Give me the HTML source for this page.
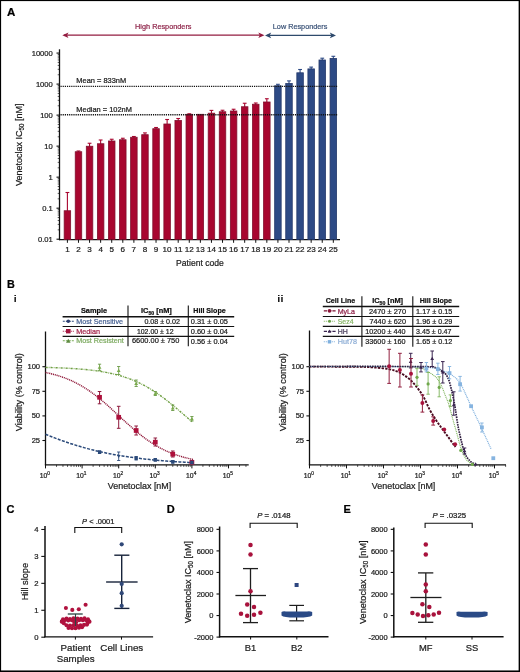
<!DOCTYPE html>
<html><head><meta charset="utf-8"><style>
html,body{margin:0;padding:0;background:#fff;}
body{width:520px;height:672px;overflow:hidden;}
svg text{stroke-width:0.22px;}
svg{display:block;will-change:transform;font-family:"Liberation Sans", sans-serif;}
</style></head><body>
<svg width="520" height="672" viewBox="0 0 520 672">
<rect x="0" y="0" width="520" height="672" fill="#fff"/>
<text stroke="#000" x="7" y="15.6" font-size="11.5" text-anchor="start" fill="#000" font-weight="bold">A</text>
<line x1="64" y1="35.2" x2="262" y2="35.2" stroke="#931c40" stroke-width="1.3"/>
<path d="M62.3,35.2 L68.5,32.4 L67,35.2 L68.5,38 Z" stroke="none" stroke-width="1" fill="#931c40"/>
<path d="M264.5,35.2 L258.3,32.4 L259.8,35.2 L258.3,38 Z" stroke="none" stroke-width="1" fill="#931c40"/>
<line x1="267" y1="35.4" x2="334" y2="35.4" stroke="#2e4a6c" stroke-width="1.3"/>
<path d="M265,35.4 L271.2,32.6 L269.7,35.4 L271.2,38.2 Z" stroke="none" stroke-width="1" fill="#2e4a6c"/>
<path d="M336,35.4 L329.8,32.6 L331.3,35.4 L329.8,38.2 Z" stroke="none" stroke-width="1" fill="#2e4a6c"/>
<text stroke="#8e2348" x="163.3" y="29.2" font-size="8" text-anchor="middle" fill="#8e2348" font-weight="normal" textLength="56.4" lengthAdjust="spacingAndGlyphs">High Responders</text>
<text stroke="#3a5277" x="300.1" y="29.2" font-size="8" text-anchor="middle" fill="#3a5277" font-weight="normal" textLength="54.6" lengthAdjust="spacingAndGlyphs">Low Responders</text>
<line x1="59.5" y1="49.3" x2="59.5" y2="240.2" stroke="#111" stroke-width="1.3"/>
<line x1="56.5" y1="239.2" x2="59.5" y2="239.2" stroke="#111" stroke-width="1.1"/>
<text stroke="#1c1c1c" x="52.8" y="241.89999999999998" font-size="7.6" text-anchor="end" fill="#1c1c1c" font-weight="normal">0.01</text>
<line x1="57.7" y1="229.86204953450329" x2="59.5" y2="229.86204953450329" stroke="#111" stroke-width="0.7"/>
<line x1="57.7" y1="224.39969867859605" x2="59.5" y2="224.39969867859605" stroke="#111" stroke-width="0.7"/>
<line x1="57.7" y1="220.52409906900658" x2="59.5" y2="220.52409906900658" stroke="#111" stroke-width="0.7"/>
<line x1="57.7" y1="217.51795046549668" x2="59.5" y2="217.51795046549668" stroke="#111" stroke-width="0.7"/>
<line x1="57.7" y1="215.06174821309935" x2="59.5" y2="215.06174821309935" stroke="#111" stroke-width="0.7"/>
<line x1="57.7" y1="212.98505879875773" x2="59.5" y2="212.98505879875773" stroke="#111" stroke-width="0.7"/>
<line x1="57.7" y1="211.1861486035099" x2="59.5" y2="211.1861486035099" stroke="#111" stroke-width="0.7"/>
<line x1="57.7" y1="209.59939735719212" x2="59.5" y2="209.59939735719212" stroke="#111" stroke-width="0.7"/>
<line x1="56.5" y1="208.17999999999998" x2="59.5" y2="208.17999999999998" stroke="#111" stroke-width="1.1"/>
<text stroke="#1c1c1c" x="52.8" y="210.87999999999997" font-size="7.6" text-anchor="end" fill="#1c1c1c" font-weight="normal">0.1</text>
<line x1="57.7" y1="198.84204953450327" x2="59.5" y2="198.84204953450327" stroke="#111" stroke-width="0.7"/>
<line x1="57.7" y1="193.37969867859604" x2="59.5" y2="193.37969867859604" stroke="#111" stroke-width="0.7"/>
<line x1="57.7" y1="189.5040990690066" x2="59.5" y2="189.5040990690066" stroke="#111" stroke-width="0.7"/>
<line x1="57.7" y1="186.49795046549667" x2="59.5" y2="186.49795046549667" stroke="#111" stroke-width="0.7"/>
<line x1="57.7" y1="184.04174821309937" x2="59.5" y2="184.04174821309937" stroke="#111" stroke-width="0.7"/>
<line x1="57.7" y1="181.96505879875772" x2="59.5" y2="181.96505879875772" stroke="#111" stroke-width="0.7"/>
<line x1="57.7" y1="180.1661486035099" x2="59.5" y2="180.1661486035099" stroke="#111" stroke-width="0.7"/>
<line x1="57.7" y1="178.57939735719214" x2="59.5" y2="178.57939735719214" stroke="#111" stroke-width="0.7"/>
<line x1="56.5" y1="177.16" x2="59.5" y2="177.16" stroke="#111" stroke-width="1.1"/>
<text stroke="#1c1c1c" x="52.8" y="179.85999999999999" font-size="7.6" text-anchor="end" fill="#1c1c1c" font-weight="normal">1</text>
<line x1="57.7" y1="167.8220495345033" x2="59.5" y2="167.8220495345033" stroke="#111" stroke-width="0.7"/>
<line x1="57.7" y1="162.35969867859606" x2="59.5" y2="162.35969867859606" stroke="#111" stroke-width="0.7"/>
<line x1="57.7" y1="158.48409906900662" x2="59.5" y2="158.48409906900662" stroke="#111" stroke-width="0.7"/>
<line x1="57.7" y1="155.4779504654967" x2="59.5" y2="155.4779504654967" stroke="#111" stroke-width="0.7"/>
<line x1="57.7" y1="153.0217482130994" x2="59.5" y2="153.0217482130994" stroke="#111" stroke-width="0.7"/>
<line x1="57.7" y1="150.94505879875774" x2="59.5" y2="150.94505879875774" stroke="#111" stroke-width="0.7"/>
<line x1="57.7" y1="149.1461486035099" x2="59.5" y2="149.1461486035099" stroke="#111" stroke-width="0.7"/>
<line x1="57.7" y1="147.55939735719215" x2="59.5" y2="147.55939735719215" stroke="#111" stroke-width="0.7"/>
<line x1="56.5" y1="146.14" x2="59.5" y2="146.14" stroke="#111" stroke-width="1.1"/>
<text stroke="#1c1c1c" x="52.8" y="148.83999999999997" font-size="7.6" text-anchor="end" fill="#1c1c1c" font-weight="normal">10</text>
<line x1="57.7" y1="136.80204953450328" x2="59.5" y2="136.80204953450328" stroke="#111" stroke-width="0.7"/>
<line x1="57.7" y1="131.33969867859605" x2="59.5" y2="131.33969867859605" stroke="#111" stroke-width="0.7"/>
<line x1="57.7" y1="127.4640990690066" x2="59.5" y2="127.4640990690066" stroke="#111" stroke-width="0.7"/>
<line x1="57.7" y1="124.45795046549668" x2="59.5" y2="124.45795046549668" stroke="#111" stroke-width="0.7"/>
<line x1="57.7" y1="122.00174821309936" x2="59.5" y2="122.00174821309936" stroke="#111" stroke-width="0.7"/>
<line x1="57.7" y1="119.92505879875773" x2="59.5" y2="119.92505879875773" stroke="#111" stroke-width="0.7"/>
<line x1="57.7" y1="118.1261486035099" x2="59.5" y2="118.1261486035099" stroke="#111" stroke-width="0.7"/>
<line x1="57.7" y1="116.53939735719213" x2="59.5" y2="116.53939735719213" stroke="#111" stroke-width="0.7"/>
<line x1="56.5" y1="115.11999999999999" x2="59.5" y2="115.11999999999999" stroke="#111" stroke-width="1.1"/>
<text stroke="#1c1c1c" x="52.8" y="117.82" font-size="7.6" text-anchor="end" fill="#1c1c1c" font-weight="normal">100</text>
<line x1="57.7" y1="105.7820495345033" x2="59.5" y2="105.7820495345033" stroke="#111" stroke-width="0.7"/>
<line x1="57.7" y1="100.31969867859607" x2="59.5" y2="100.31969867859607" stroke="#111" stroke-width="0.7"/>
<line x1="57.7" y1="96.4440990690066" x2="59.5" y2="96.4440990690066" stroke="#111" stroke-width="0.7"/>
<line x1="57.7" y1="93.43795046549668" x2="59.5" y2="93.43795046549668" stroke="#111" stroke-width="0.7"/>
<line x1="57.7" y1="90.98174821309937" x2="59.5" y2="90.98174821309937" stroke="#111" stroke-width="0.7"/>
<line x1="57.7" y1="88.90505879875775" x2="59.5" y2="88.90505879875775" stroke="#111" stroke-width="0.7"/>
<line x1="57.7" y1="87.1061486035099" x2="59.5" y2="87.1061486035099" stroke="#111" stroke-width="0.7"/>
<line x1="57.7" y1="85.51939735719213" x2="59.5" y2="85.51939735719213" stroke="#111" stroke-width="0.7"/>
<line x1="56.5" y1="84.1" x2="59.5" y2="84.1" stroke="#111" stroke-width="1.1"/>
<text stroke="#1c1c1c" x="52.8" y="86.8" font-size="7.6" text-anchor="end" fill="#1c1c1c" font-weight="normal">1000</text>
<line x1="57.7" y1="74.76204953450329" x2="59.5" y2="74.76204953450329" stroke="#111" stroke-width="0.7"/>
<line x1="57.7" y1="69.29969867859606" x2="59.5" y2="69.29969867859606" stroke="#111" stroke-width="0.7"/>
<line x1="57.7" y1="65.4240990690066" x2="59.5" y2="65.4240990690066" stroke="#111" stroke-width="0.7"/>
<line x1="57.7" y1="62.41795046549669" x2="59.5" y2="62.41795046549669" stroke="#111" stroke-width="0.7"/>
<line x1="57.7" y1="59.96174821309937" x2="59.5" y2="59.96174821309937" stroke="#111" stroke-width="0.7"/>
<line x1="57.7" y1="57.88505879875775" x2="59.5" y2="57.88505879875775" stroke="#111" stroke-width="0.7"/>
<line x1="57.7" y1="56.086148603509905" x2="59.5" y2="56.086148603509905" stroke="#111" stroke-width="0.7"/>
<line x1="57.7" y1="54.49939735719214" x2="59.5" y2="54.49939735719214" stroke="#111" stroke-width="0.7"/>
<line x1="56.5" y1="53.079999999999984" x2="59.5" y2="53.079999999999984" stroke="#111" stroke-width="1.1"/>
<text stroke="#1c1c1c" x="52.8" y="55.77999999999999" font-size="7.6" text-anchor="end" fill="#1c1c1c" font-weight="normal">10000</text>
<line x1="58.9" y1="239.6" x2="340" y2="239.6" stroke="#111" stroke-width="1.3"/>
<line x1="67.4" y1="192.5" x2="67.4" y2="211.75" stroke="#a8062f" stroke-width="1.1"/>
<line x1="65.5" y1="192.5" x2="69.30000000000001" y2="192.5" stroke="#a8062f" stroke-width="1.1"/>
<rect x="64.15" y="210.75" width="6.5" height="28.849999999999994" fill="#a8062f" stroke="#80112e" stroke-width="0.8"/>
<line x1="67.4" y1="239.6" x2="67.4" y2="242.8" stroke="#111" stroke-width="1"/>
<text stroke="#1c1c1c" x="67.4" y="252.3" font-size="8.1" text-anchor="middle" fill="#1c1c1c" font-weight="normal">1</text>
<line x1="78.48" y1="151" x2="78.48" y2="152.75" stroke="#a8062f" stroke-width="1.1"/>
<line x1="76.58" y1="151" x2="80.38000000000001" y2="151" stroke="#a8062f" stroke-width="1.1"/>
<rect x="75.23" y="151.75" width="6.5" height="87.85" fill="#a8062f" stroke="#80112e" stroke-width="0.8"/>
<line x1="78.48" y1="239.6" x2="78.48" y2="242.8" stroke="#111" stroke-width="1"/>
<text stroke="#1c1c1c" x="78.48" y="252.3" font-size="8.1" text-anchor="middle" fill="#1c1c1c" font-weight="normal">2</text>
<line x1="89.56" y1="143.25" x2="89.56" y2="147.25" stroke="#a8062f" stroke-width="1.1"/>
<line x1="87.66" y1="143.25" x2="91.46000000000001" y2="143.25" stroke="#a8062f" stroke-width="1.1"/>
<rect x="86.31" y="146.25" width="6.5" height="93.35" fill="#a8062f" stroke="#80112e" stroke-width="0.8"/>
<line x1="89.56" y1="239.6" x2="89.56" y2="242.8" stroke="#111" stroke-width="1"/>
<text stroke="#1c1c1c" x="89.56" y="252.3" font-size="8.1" text-anchor="middle" fill="#1c1c1c" font-weight="normal">3</text>
<line x1="100.64000000000001" y1="140" x2="100.64000000000001" y2="144.75" stroke="#a8062f" stroke-width="1.1"/>
<line x1="98.74000000000001" y1="140" x2="102.54000000000002" y2="140" stroke="#a8062f" stroke-width="1.1"/>
<rect x="97.39000000000001" y="143.75" width="6.5" height="95.85" fill="#a8062f" stroke="#80112e" stroke-width="0.8"/>
<line x1="100.64000000000001" y1="239.6" x2="100.64000000000001" y2="242.8" stroke="#111" stroke-width="1"/>
<text stroke="#1c1c1c" x="100.64000000000001" y="252.3" font-size="8.1" text-anchor="middle" fill="#1c1c1c" font-weight="normal">4</text>
<line x1="111.72" y1="139.25" x2="111.72" y2="142" stroke="#a8062f" stroke-width="1.1"/>
<line x1="109.82" y1="139.25" x2="113.62" y2="139.25" stroke="#a8062f" stroke-width="1.1"/>
<rect x="108.47" y="141" width="6.5" height="98.6" fill="#a8062f" stroke="#80112e" stroke-width="0.8"/>
<line x1="111.72" y1="239.6" x2="111.72" y2="242.8" stroke="#111" stroke-width="1"/>
<text stroke="#1c1c1c" x="111.72" y="252.3" font-size="8.1" text-anchor="middle" fill="#1c1c1c" font-weight="normal">5</text>
<line x1="122.80000000000001" y1="138.25" x2="122.80000000000001" y2="140.75" stroke="#a8062f" stroke-width="1.1"/>
<line x1="120.9" y1="138.25" x2="124.70000000000002" y2="138.25" stroke="#a8062f" stroke-width="1.1"/>
<rect x="119.55000000000001" y="139.75" width="6.5" height="99.85" fill="#a8062f" stroke="#80112e" stroke-width="0.8"/>
<line x1="122.80000000000001" y1="239.6" x2="122.80000000000001" y2="242.8" stroke="#111" stroke-width="1"/>
<text stroke="#1c1c1c" x="122.80000000000001" y="252.3" font-size="8.1" text-anchor="middle" fill="#1c1c1c" font-weight="normal">6</text>
<line x1="133.88000000000002" y1="136.5" x2="133.88000000000002" y2="138.25" stroke="#a8062f" stroke-width="1.1"/>
<line x1="131.98000000000002" y1="136.5" x2="135.78000000000003" y2="136.5" stroke="#a8062f" stroke-width="1.1"/>
<rect x="130.63000000000002" y="137.25" width="6.5" height="102.35" fill="#a8062f" stroke="#80112e" stroke-width="0.8"/>
<line x1="133.88000000000002" y1="239.6" x2="133.88000000000002" y2="242.8" stroke="#111" stroke-width="1"/>
<text stroke="#1c1c1c" x="133.88000000000002" y="252.3" font-size="8.1" text-anchor="middle" fill="#1c1c1c" font-weight="normal">7</text>
<line x1="144.96" y1="132.9" x2="144.96" y2="135.7" stroke="#a8062f" stroke-width="1.1"/>
<line x1="143.06" y1="132.9" x2="146.86" y2="132.9" stroke="#a8062f" stroke-width="1.1"/>
<rect x="141.71" y="134.7" width="6.5" height="104.9" fill="#a8062f" stroke="#80112e" stroke-width="0.8"/>
<line x1="144.96" y1="239.6" x2="144.96" y2="242.8" stroke="#111" stroke-width="1"/>
<text stroke="#1c1c1c" x="144.96" y="252.3" font-size="8.1" text-anchor="middle" fill="#1c1c1c" font-weight="normal">8</text>
<line x1="156.04" y1="127.5" x2="156.04" y2="129.7" stroke="#a8062f" stroke-width="1.1"/>
<line x1="154.14" y1="127.5" x2="157.94" y2="127.5" stroke="#a8062f" stroke-width="1.1"/>
<rect x="152.79" y="128.7" width="6.5" height="110.9" fill="#a8062f" stroke="#80112e" stroke-width="0.8"/>
<line x1="156.04" y1="239.6" x2="156.04" y2="242.8" stroke="#111" stroke-width="1"/>
<text stroke="#1c1c1c" x="156.04" y="252.3" font-size="8.1" text-anchor="middle" fill="#1c1c1c" font-weight="normal">9</text>
<line x1="167.12" y1="119.5" x2="167.12" y2="125" stroke="#a8062f" stroke-width="1.1"/>
<line x1="165.22" y1="119.5" x2="169.02" y2="119.5" stroke="#a8062f" stroke-width="1.1"/>
<rect x="163.87" y="124" width="6.5" height="115.6" fill="#a8062f" stroke="#80112e" stroke-width="0.8"/>
<line x1="167.12" y1="239.6" x2="167.12" y2="242.8" stroke="#111" stroke-width="1"/>
<text stroke="#1c1c1c" x="167.12" y="252.3" font-size="8.1" text-anchor="middle" fill="#1c1c1c" font-weight="normal">10</text>
<line x1="178.20000000000002" y1="118.5" x2="178.20000000000002" y2="121.5" stroke="#a8062f" stroke-width="1.1"/>
<line x1="176.3" y1="118.5" x2="180.10000000000002" y2="118.5" stroke="#a8062f" stroke-width="1.1"/>
<rect x="174.95000000000002" y="120.5" width="6.5" height="119.1" fill="#a8062f" stroke="#80112e" stroke-width="0.8"/>
<line x1="178.20000000000002" y1="239.6" x2="178.20000000000002" y2="242.8" stroke="#111" stroke-width="1"/>
<text stroke="#1c1c1c" x="178.20000000000002" y="252.3" font-size="8.1" text-anchor="middle" fill="#1c1c1c" font-weight="normal">11</text>
<line x1="189.28" y1="113.8" x2="189.28" y2="115.3" stroke="#a8062f" stroke-width="1.1"/>
<line x1="187.38" y1="113.8" x2="191.18" y2="113.8" stroke="#a8062f" stroke-width="1.1"/>
<rect x="186.03" y="114.3" width="6.5" height="125.3" fill="#a8062f" stroke="#80112e" stroke-width="0.8"/>
<line x1="189.28" y1="239.6" x2="189.28" y2="242.8" stroke="#111" stroke-width="1"/>
<text stroke="#1c1c1c" x="189.28" y="252.3" font-size="8.1" text-anchor="middle" fill="#1c1c1c" font-weight="normal">12</text>
<rect x="197.11" y="114.3" width="6.5" height="125.3" fill="#a8062f" stroke="#80112e" stroke-width="0.8"/>
<line x1="200.36" y1="239.6" x2="200.36" y2="242.8" stroke="#111" stroke-width="1"/>
<text stroke="#1c1c1c" x="200.36" y="252.3" font-size="8.1" text-anchor="middle" fill="#1c1c1c" font-weight="normal">13</text>
<line x1="211.44" y1="110.4" x2="211.44" y2="114.2" stroke="#a8062f" stroke-width="1.1"/>
<line x1="209.54" y1="110.4" x2="213.34" y2="110.4" stroke="#a8062f" stroke-width="1.1"/>
<rect x="208.19" y="113.2" width="6.5" height="126.39999999999999" fill="#a8062f" stroke="#80112e" stroke-width="0.8"/>
<line x1="211.44" y1="239.6" x2="211.44" y2="242.8" stroke="#111" stroke-width="1"/>
<text stroke="#1c1c1c" x="211.44" y="252.3" font-size="8.1" text-anchor="middle" fill="#1c1c1c" font-weight="normal">14</text>
<line x1="222.52" y1="110.25" x2="222.52" y2="112.75" stroke="#a8062f" stroke-width="1.1"/>
<line x1="220.62" y1="110.25" x2="224.42000000000002" y2="110.25" stroke="#a8062f" stroke-width="1.1"/>
<rect x="219.27" y="111.75" width="6.5" height="127.85" fill="#a8062f" stroke="#80112e" stroke-width="0.8"/>
<line x1="222.52" y1="239.6" x2="222.52" y2="242.8" stroke="#111" stroke-width="1"/>
<text stroke="#1c1c1c" x="222.52" y="252.3" font-size="8.1" text-anchor="middle" fill="#1c1c1c" font-weight="normal">15</text>
<line x1="233.6" y1="109.25" x2="233.6" y2="112" stroke="#a8062f" stroke-width="1.1"/>
<line x1="231.7" y1="109.25" x2="235.5" y2="109.25" stroke="#a8062f" stroke-width="1.1"/>
<rect x="230.35" y="111" width="6.5" height="128.6" fill="#a8062f" stroke="#80112e" stroke-width="0.8"/>
<line x1="233.6" y1="239.6" x2="233.6" y2="242.8" stroke="#111" stroke-width="1"/>
<text stroke="#1c1c1c" x="233.6" y="252.3" font-size="8.1" text-anchor="middle" fill="#1c1c1c" font-weight="normal">16</text>
<line x1="244.68" y1="103.25" x2="244.68" y2="107.75" stroke="#a8062f" stroke-width="1.1"/>
<line x1="242.78" y1="103.25" x2="246.58" y2="103.25" stroke="#a8062f" stroke-width="1.1"/>
<rect x="241.43" y="106.75" width="6.5" height="132.85" fill="#a8062f" stroke="#80112e" stroke-width="0.8"/>
<line x1="244.68" y1="239.6" x2="244.68" y2="242.8" stroke="#111" stroke-width="1"/>
<text stroke="#1c1c1c" x="244.68" y="252.3" font-size="8.1" text-anchor="middle" fill="#1c1c1c" font-weight="normal">17</text>
<line x1="255.76000000000002" y1="103" x2="255.76000000000002" y2="105.25" stroke="#a8062f" stroke-width="1.1"/>
<line x1="253.86" y1="103" x2="257.66" y2="103" stroke="#a8062f" stroke-width="1.1"/>
<rect x="252.51000000000002" y="104.25" width="6.5" height="135.35" fill="#a8062f" stroke="#80112e" stroke-width="0.8"/>
<line x1="255.76000000000002" y1="239.6" x2="255.76000000000002" y2="242.8" stroke="#111" stroke-width="1"/>
<text stroke="#1c1c1c" x="255.76000000000002" y="252.3" font-size="8.1" text-anchor="middle" fill="#1c1c1c" font-weight="normal">18</text>
<line x1="266.84" y1="98.75" x2="266.84" y2="103" stroke="#a8062f" stroke-width="1.1"/>
<line x1="264.94" y1="98.75" x2="268.73999999999995" y2="98.75" stroke="#a8062f" stroke-width="1.1"/>
<rect x="263.59" y="102" width="6.5" height="137.6" fill="#a8062f" stroke="#80112e" stroke-width="0.8"/>
<line x1="266.84" y1="239.6" x2="266.84" y2="242.8" stroke="#111" stroke-width="1"/>
<text stroke="#1c1c1c" x="266.84" y="252.3" font-size="8.1" text-anchor="middle" fill="#1c1c1c" font-weight="normal">19</text>
<line x1="277.91999999999996" y1="84.3" x2="277.91999999999996" y2="86.8" stroke="#2d4a85" stroke-width="1.1"/>
<line x1="276.02" y1="84.3" x2="279.81999999999994" y2="84.3" stroke="#2d4a85" stroke-width="1.1"/>
<rect x="274.66999999999996" y="85.8" width="6.5" height="153.8" fill="#2d4a85" stroke="#24386a" stroke-width="0.8"/>
<line x1="277.91999999999996" y1="239.6" x2="277.91999999999996" y2="242.8" stroke="#111" stroke-width="1"/>
<text stroke="#1c1c1c" x="277.91999999999996" y="252.3" font-size="8.1" text-anchor="middle" fill="#1c1c1c" font-weight="normal">20</text>
<line x1="289.0" y1="80.9" x2="289.0" y2="84.5" stroke="#2d4a85" stroke-width="1.1"/>
<line x1="287.1" y1="80.9" x2="290.9" y2="80.9" stroke="#2d4a85" stroke-width="1.1"/>
<rect x="285.75" y="83.5" width="6.5" height="156.1" fill="#2d4a85" stroke="#24386a" stroke-width="0.8"/>
<line x1="289.0" y1="239.6" x2="289.0" y2="242.8" stroke="#111" stroke-width="1"/>
<text stroke="#1c1c1c" x="289.0" y="252.3" font-size="8.1" text-anchor="middle" fill="#1c1c1c" font-weight="normal">21</text>
<line x1="300.08" y1="69.5" x2="300.08" y2="73.8" stroke="#2d4a85" stroke-width="1.1"/>
<line x1="298.18" y1="69.5" x2="301.97999999999996" y2="69.5" stroke="#2d4a85" stroke-width="1.1"/>
<rect x="296.83" y="72.8" width="6.5" height="166.8" fill="#2d4a85" stroke="#24386a" stroke-width="0.8"/>
<line x1="300.08" y1="239.6" x2="300.08" y2="242.8" stroke="#111" stroke-width="1"/>
<text stroke="#1c1c1c" x="300.08" y="252.3" font-size="8.1" text-anchor="middle" fill="#1c1c1c" font-weight="normal">22</text>
<line x1="311.15999999999997" y1="67.1" x2="311.15999999999997" y2="69.9" stroke="#2d4a85" stroke-width="1.1"/>
<line x1="309.26" y1="67.1" x2="313.05999999999995" y2="67.1" stroke="#2d4a85" stroke-width="1.1"/>
<rect x="307.90999999999997" y="68.9" width="6.5" height="170.7" fill="#2d4a85" stroke="#24386a" stroke-width="0.8"/>
<line x1="311.15999999999997" y1="239.6" x2="311.15999999999997" y2="242.8" stroke="#111" stroke-width="1"/>
<text stroke="#1c1c1c" x="311.15999999999997" y="252.3" font-size="8.1" text-anchor="middle" fill="#1c1c1c" font-weight="normal">23</text>
<line x1="322.24" y1="58.2" x2="322.24" y2="61" stroke="#2d4a85" stroke-width="1.1"/>
<line x1="320.34000000000003" y1="58.2" x2="324.14" y2="58.2" stroke="#2d4a85" stroke-width="1.1"/>
<rect x="318.99" y="60" width="6.5" height="179.6" fill="#2d4a85" stroke="#24386a" stroke-width="0.8"/>
<line x1="322.24" y1="239.6" x2="322.24" y2="242.8" stroke="#111" stroke-width="1"/>
<text stroke="#1c1c1c" x="322.24" y="252.3" font-size="8.1" text-anchor="middle" fill="#1c1c1c" font-weight="normal">24</text>
<line x1="333.32" y1="56.3" x2="333.32" y2="59.5" stroke="#2d4a85" stroke-width="1.1"/>
<line x1="331.42" y1="56.3" x2="335.21999999999997" y2="56.3" stroke="#2d4a85" stroke-width="1.1"/>
<rect x="330.07" y="58.5" width="6.5" height="181.1" fill="#2d4a85" stroke="#24386a" stroke-width="0.8"/>
<line x1="333.32" y1="239.6" x2="333.32" y2="242.8" stroke="#111" stroke-width="1"/>
<text stroke="#1c1c1c" x="333.32" y="252.3" font-size="8.1" text-anchor="middle" fill="#1c1c1c" font-weight="normal">25</text>
<line x1="60.5" y1="86.4" x2="338" y2="86.4" stroke="#111" stroke-width="1.35" stroke-dasharray="1.2 0.95"/>
<line x1="60.5" y1="114.7" x2="338" y2="114.7" stroke="#111" stroke-width="1.35" stroke-dasharray="1.2 0.95"/>
<text stroke="#1c1c1c" x="76.3" y="83.2" font-size="7.45" text-anchor="start" fill="#1c1c1c" font-weight="normal">Mean = 833nM</text>
<text stroke="#1c1c1c" x="76.3" y="111.8" font-size="7.45" text-anchor="start" fill="#1c1c1c" font-weight="normal">Median = 102nM</text>
<text stroke="#1c1c1c" transform="translate(22.0,144.8) rotate(-90)" font-size="9.25" text-anchor="middle" fill="#1c1c1c" textLength="82.5" lengthAdjust="spacingAndGlyphs">Venetoclax IC<tspan font-size="6.3" dy="2">50</tspan><tspan dy="-2"> [nM]</tspan></text>
<text stroke="#1c1c1c" x="200" y="265.9" font-size="9.4" text-anchor="middle" fill="#1c1c1c" font-weight="normal" textLength="47.8" lengthAdjust="spacingAndGlyphs">Patient code</text>
<text stroke="#000" x="6.9" y="287.8" font-size="10.8" text-anchor="start" fill="#000" font-weight="bold">B</text>
<text stroke="#000" x="13.9" y="302.3" font-size="8.8" text-anchor="start" fill="#000" font-weight="bold">i</text>
<text stroke="#000" x="277.5" y="302.3" font-size="8.8" text-anchor="start" fill="#000" font-weight="bold">i</text>
<text stroke="#000" x="280.7" y="302.3" font-size="8.8" text-anchor="start" fill="#000" font-weight="bold">i</text>
<line x1="62.6" y1="316.7" x2="234.2" y2="316.7" stroke="#111" stroke-width="1.5"/>
<line x1="62.6" y1="326.5" x2="234.2" y2="326.5" stroke="#111" stroke-width="1.1"/>
<line x1="62.6" y1="336.4" x2="234.2" y2="336.4" stroke="#111" stroke-width="1.1"/>
<line x1="128.0" y1="305.5" x2="128.0" y2="346.3" stroke="#111" stroke-width="1.1"/>
<line x1="188.3" y1="305.5" x2="188.3" y2="346.3" stroke="#111" stroke-width="1.1"/>
<text stroke="#111" x="94.0" y="312.8" font-size="7.4" text-anchor="middle" fill="#111" font-weight="bold" textLength="26.2" lengthAdjust="spacingAndGlyphs">Sample</text>
<text stroke="#111" x="141" y="313.1" font-size="7.4" font-weight="bold" fill="#111">IC<tspan font-size="5.2" dy="1.8">50</tspan><tspan dy="-1.8"> [nM]</tspan></text>
<text stroke="#111" x="193.3" y="312.7" font-size="7.4" text-anchor="start" fill="#111" font-weight="bold" textLength="32.4" lengthAdjust="spacingAndGlyphs">Hill Slope</text>
<text stroke="#4a6494" x="76.2" y="324.0" font-size="7.3" text-anchor="start" fill="#4a6494" font-weight="normal" textLength="46.8" lengthAdjust="spacingAndGlyphs">Most Sensitive</text>
<text stroke="#a4284c" x="76.2" y="333.5" font-size="7.3" text-anchor="start" fill="#a4284c" font-weight="normal" textLength="23.9" lengthAdjust="spacingAndGlyphs">Median</text>
<text stroke="#7eab62" x="76.2" y="343.3" font-size="7.3" text-anchor="start" fill="#7eab62" font-weight="normal" textLength="47.7" lengthAdjust="spacingAndGlyphs">Most Resistent</text>
<line x1="62.8" y1="321.2" x2="73.8" y2="321.2" stroke="#2d4a7a" stroke-width="1.1" stroke-dasharray="2 1"/>
<circle cx="68.3" cy="321.2" r="1.8" fill="#2d3f70"/>
<line x1="62.8" y1="331.2" x2="73.8" y2="331.2" stroke="#a3163f" stroke-width="1.1" stroke-dasharray="1 1"/>
<rect x="66.0" y="329.0" width="4.6" height="4.4" fill="#a3163f" stroke="none" stroke-width="0"/>
<line x1="62.8" y1="340.8" x2="73.8" y2="340.8" stroke="#78aa55" stroke-width="1.1" stroke-dasharray="2 1"/>
<path d="M66.0,342.64 L70.6,342.64 L68.3,338.73 Z" stroke="none" stroke-width="1" fill="#5e8a40"/>
<text stroke="#1c1c1c" x="180.0" y="324.0" font-size="7.6" text-anchor="end" fill="#1c1c1c" font-weight="normal" textLength="35.6" lengthAdjust="spacingAndGlyphs">0.08 ± 0.02</text>
<text stroke="#1c1c1c" x="136.9" y="334.0" font-size="7.6" text-anchor="start" fill="#1c1c1c" font-weight="normal" textLength="36.6" lengthAdjust="spacingAndGlyphs">102.00 ± 12</text>
<text stroke="#1c1c1c" x="131.9" y="343.1" font-size="7.6" text-anchor="start" fill="#1c1c1c" font-weight="normal" textLength="47.5" lengthAdjust="spacingAndGlyphs">6600.00 ± 750</text>
<text stroke="#1c1c1c" x="190.8" y="323.8" font-size="7.6" text-anchor="start" fill="#1c1c1c" font-weight="normal" textLength="37.1" lengthAdjust="spacingAndGlyphs">0.31 ± 0.05</text>
<text stroke="#1c1c1c" x="190.8" y="333.7" font-size="7.6" text-anchor="start" fill="#1c1c1c" font-weight="normal" textLength="37.1" lengthAdjust="spacingAndGlyphs">0.60 ± 0.04</text>
<text stroke="#1c1c1c" x="190.8" y="343.6" font-size="7.6" text-anchor="start" fill="#1c1c1c" font-weight="normal" textLength="37.1" lengthAdjust="spacingAndGlyphs">0.56 ± 0.04</text>
<line x1="45.5" y1="331.5" x2="45.5" y2="465.3" stroke="#111" stroke-width="1.3"/>
<line x1="42.4" y1="366.70000000000005" x2="45.5" y2="366.70000000000005" stroke="#111" stroke-width="1.1"/>
<text stroke="#1c1c1c" x="40.1" y="369.20000000000005" font-size="7.6" text-anchor="end" fill="#1c1c1c" font-weight="normal">100</text>
<line x1="42.4" y1="391.3" x2="45.5" y2="391.3" stroke="#111" stroke-width="1.1"/>
<text stroke="#1c1c1c" x="40.1" y="393.8" font-size="7.6" text-anchor="end" fill="#1c1c1c" font-weight="normal">75</text>
<line x1="42.4" y1="415.90000000000003" x2="45.5" y2="415.90000000000003" stroke="#111" stroke-width="1.1"/>
<text stroke="#1c1c1c" x="40.1" y="418.40000000000003" font-size="7.6" text-anchor="end" fill="#1c1c1c" font-weight="normal">50</text>
<line x1="42.4" y1="440.5" x2="45.5" y2="440.5" stroke="#111" stroke-width="1.1"/>
<text stroke="#1c1c1c" x="40.1" y="443.0" font-size="7.6" text-anchor="end" fill="#1c1c1c" font-weight="normal">25</text>
<line x1="44.9" y1="464.9" x2="248.7" y2="464.9" stroke="#111" stroke-width="1.3"/>
<line x1="45.5" y1="464.9" x2="45.5" y2="468.4" stroke="#111" stroke-width="1"/>
<text stroke="#1c1c1c" x="44.8" y="477.7" font-size="6.8" text-anchor="middle" fill="#1c1c1c">10<tspan font-size="4.8" dy="-2.6">0</tspan></text>
<line x1="56.51769784130171" y1="464.9" x2="56.51769784130171" y2="466.9" stroke="#111" stroke-width="0.7"/>
<line x1="62.962637922739646" y1="464.9" x2="62.962637922739646" y2="466.9" stroke="#111" stroke-width="0.7"/>
<line x1="67.53539568260342" y1="464.9" x2="67.53539568260342" y2="466.9" stroke="#111" stroke-width="0.7"/>
<line x1="71.0823021586983" y1="464.9" x2="71.0823021586983" y2="466.9" stroke="#111" stroke-width="0.7"/>
<line x1="73.98033576404136" y1="464.9" x2="73.98033576404136" y2="466.9" stroke="#111" stroke-width="0.7"/>
<line x1="76.4305882645218" y1="464.9" x2="76.4305882645218" y2="466.9" stroke="#111" stroke-width="0.7"/>
<line x1="78.55309352390513" y1="464.9" x2="78.55309352390513" y2="466.9" stroke="#111" stroke-width="0.7"/>
<line x1="80.42527584547929" y1="464.9" x2="80.42527584547929" y2="466.9" stroke="#111" stroke-width="0.7"/>
<line x1="82.1" y1="464.9" x2="82.1" y2="468.4" stroke="#111" stroke-width="1"/>
<text stroke="#1c1c1c" x="81.39999999999999" y="477.7" font-size="6.8" text-anchor="middle" fill="#1c1c1c">10<tspan font-size="4.8" dy="-2.6">1</tspan></text>
<line x1="93.1176978413017" y1="464.9" x2="93.1176978413017" y2="466.9" stroke="#111" stroke-width="0.7"/>
<line x1="99.56263792273964" y1="464.9" x2="99.56263792273964" y2="466.9" stroke="#111" stroke-width="0.7"/>
<line x1="104.13539568260342" y1="464.9" x2="104.13539568260342" y2="466.9" stroke="#111" stroke-width="0.7"/>
<line x1="107.68230215869829" y1="464.9" x2="107.68230215869829" y2="466.9" stroke="#111" stroke-width="0.7"/>
<line x1="110.58033576404135" y1="464.9" x2="110.58033576404135" y2="466.9" stroke="#111" stroke-width="0.7"/>
<line x1="113.0305882645218" y1="464.9" x2="113.0305882645218" y2="466.9" stroke="#111" stroke-width="0.7"/>
<line x1="115.15309352390513" y1="464.9" x2="115.15309352390513" y2="466.9" stroke="#111" stroke-width="0.7"/>
<line x1="117.02527584547929" y1="464.9" x2="117.02527584547929" y2="466.9" stroke="#111" stroke-width="0.7"/>
<line x1="118.7" y1="464.9" x2="118.7" y2="468.4" stroke="#111" stroke-width="1"/>
<text stroke="#1c1c1c" x="118.0" y="477.7" font-size="6.8" text-anchor="middle" fill="#1c1c1c">10<tspan font-size="4.8" dy="-2.6">2</tspan></text>
<line x1="129.7176978413017" y1="464.9" x2="129.7176978413017" y2="466.9" stroke="#111" stroke-width="0.7"/>
<line x1="136.16263792273963" y1="464.9" x2="136.16263792273963" y2="466.9" stroke="#111" stroke-width="0.7"/>
<line x1="140.73539568260344" y1="464.9" x2="140.73539568260344" y2="466.9" stroke="#111" stroke-width="0.7"/>
<line x1="144.2823021586983" y1="464.9" x2="144.2823021586983" y2="466.9" stroke="#111" stroke-width="0.7"/>
<line x1="147.18033576404136" y1="464.9" x2="147.18033576404136" y2="466.9" stroke="#111" stroke-width="0.7"/>
<line x1="149.6305882645218" y1="464.9" x2="149.6305882645218" y2="466.9" stroke="#111" stroke-width="0.7"/>
<line x1="151.75309352390514" y1="464.9" x2="151.75309352390514" y2="466.9" stroke="#111" stroke-width="0.7"/>
<line x1="153.62527584547928" y1="464.9" x2="153.62527584547928" y2="466.9" stroke="#111" stroke-width="0.7"/>
<line x1="155.3" y1="464.9" x2="155.3" y2="468.4" stroke="#111" stroke-width="1"/>
<text stroke="#1c1c1c" x="154.60000000000002" y="477.7" font-size="6.8" text-anchor="middle" fill="#1c1c1c">10<tspan font-size="4.8" dy="-2.6">3</tspan></text>
<line x1="166.31769784130174" y1="464.9" x2="166.31769784130174" y2="466.9" stroke="#111" stroke-width="0.7"/>
<line x1="172.76263792273966" y1="464.9" x2="172.76263792273966" y2="466.9" stroke="#111" stroke-width="0.7"/>
<line x1="177.33539568260343" y1="464.9" x2="177.33539568260343" y2="466.9" stroke="#111" stroke-width="0.7"/>
<line x1="180.8823021586983" y1="464.9" x2="180.8823021586983" y2="466.9" stroke="#111" stroke-width="0.7"/>
<line x1="183.78033576404135" y1="464.9" x2="183.78033576404135" y2="466.9" stroke="#111" stroke-width="0.7"/>
<line x1="186.23058826452183" y1="464.9" x2="186.23058826452183" y2="466.9" stroke="#111" stroke-width="0.7"/>
<line x1="188.35309352390516" y1="464.9" x2="188.35309352390516" y2="466.9" stroke="#111" stroke-width="0.7"/>
<line x1="190.2252758454793" y1="464.9" x2="190.2252758454793" y2="466.9" stroke="#111" stroke-width="0.7"/>
<line x1="191.9" y1="464.9" x2="191.9" y2="468.4" stroke="#111" stroke-width="1"/>
<text stroke="#1c1c1c" x="191.20000000000002" y="477.7" font-size="6.8" text-anchor="middle" fill="#1c1c1c">10<tspan font-size="4.8" dy="-2.6">4</tspan></text>
<line x1="202.91769784130173" y1="464.9" x2="202.91769784130173" y2="466.9" stroke="#111" stroke-width="0.7"/>
<line x1="209.36263792273965" y1="464.9" x2="209.36263792273965" y2="466.9" stroke="#111" stroke-width="0.7"/>
<line x1="213.93539568260343" y1="464.9" x2="213.93539568260343" y2="466.9" stroke="#111" stroke-width="0.7"/>
<line x1="217.4823021586983" y1="464.9" x2="217.4823021586983" y2="466.9" stroke="#111" stroke-width="0.7"/>
<line x1="220.38033576404138" y1="464.9" x2="220.38033576404138" y2="466.9" stroke="#111" stroke-width="0.7"/>
<line x1="222.8305882645218" y1="464.9" x2="222.8305882645218" y2="466.9" stroke="#111" stroke-width="0.7"/>
<line x1="224.95309352390512" y1="464.9" x2="224.95309352390512" y2="466.9" stroke="#111" stroke-width="0.7"/>
<line x1="226.8252758454793" y1="464.9" x2="226.8252758454793" y2="466.9" stroke="#111" stroke-width="0.7"/>
<line x1="228.5" y1="464.9" x2="228.5" y2="468.4" stroke="#111" stroke-width="1"/>
<text stroke="#1c1c1c" x="227.8" y="477.7" font-size="6.8" text-anchor="middle" fill="#1c1c1c">10<tspan font-size="4.8" dy="-2.6">5</tspan></text>
<line x1="239.51769784130173" y1="464.9" x2="239.51769784130173" y2="466.9" stroke="#111" stroke-width="0.7"/>
<line x1="245.96263792273965" y1="464.9" x2="245.96263792273965" y2="466.9" stroke="#111" stroke-width="0.7"/>
<text stroke="#1c1c1c" transform="translate(22.4,392.2) rotate(-90)" font-size="9.1" text-anchor="middle" fill="#1c1c1c" textLength="78" lengthAdjust="spacingAndGlyphs">Viability (% control)</text>
<text stroke="#1c1c1c" x="139.5" y="489.4" font-size="8.9" text-anchor="middle" fill="#1c1c1c" font-weight="normal" textLength="63.5" lengthAdjust="spacingAndGlyphs">Venetoclax [nM]</text>
<path d="M45.50,367.41 L47.33,367.46 L49.16,367.51 L50.99,367.56 L52.82,367.62 L54.65,367.68 L56.48,367.74 L58.31,367.81 L60.14,367.88 L61.97,367.96 L63.80,368.04 L65.63,368.13 L67.46,368.22 L69.29,368.32 L71.12,368.43 L72.95,368.54 L74.78,368.66 L76.61,368.79 L78.44,368.93 L80.27,369.07 L82.10,369.23 L83.93,369.39 L85.76,369.57 L87.59,369.75 L89.42,369.95 L91.25,370.16 L93.08,370.38 L94.91,370.61 L96.74,370.86 L98.57,371.13 L100.40,371.41 L102.23,371.70 L104.06,372.02 L105.89,372.35 L107.72,372.71 L109.55,373.08 L111.38,373.48 L113.21,373.90 L115.04,374.34 L116.87,374.80 L118.70,375.30 L120.53,375.82 L122.36,376.36 L124.19,376.94 L126.02,377.55 L127.85,378.19 L129.68,378.86 L131.51,379.56 L133.34,380.30 L135.17,381.07 L137.00,381.88 L138.83,382.73 L140.66,383.61 L142.49,384.53 L144.32,385.49 L146.15,386.49 L147.98,387.53 L149.81,388.61 L151.64,389.73 L153.47,390.89 L155.30,392.08 L157.13,393.31 L158.96,394.58 L160.79,395.89 L162.62,397.23 L164.45,398.60 L166.28,400.01 L168.11,401.44 L169.94,402.91 L171.77,404.39 L173.60,405.90 L175.43,407.43 L177.26,408.98 L179.09,410.54 L180.92,412.12 L182.75,413.70 L184.58,415.28 L186.41,416.87 L188.24,418.45 L190.07,420.03 L191.90,421.60" stroke="#70a044" stroke-width="1.4" fill="none" stroke-dasharray="2.2 1 0.8 1"/>
<path d="M45.50,372.48 L47.34,372.87 L49.19,373.28 L51.03,373.72 L52.87,374.19 L54.72,374.68 L56.56,375.21 L58.41,375.77 L60.25,376.36 L62.09,376.98 L63.94,377.64 L65.78,378.33 L67.62,379.07 L69.47,379.84 L71.31,380.65 L73.16,381.50 L75.00,382.40 L76.84,383.34 L78.69,384.33 L80.53,385.36 L82.37,386.43 L84.22,387.55 L86.06,388.72 L87.91,389.93 L89.75,391.19 L91.59,392.49 L93.44,393.84 L95.28,395.23 L97.12,396.66 L98.97,398.13 L100.81,399.63 L102.66,401.17 L104.50,402.75 L106.34,404.35 L108.19,405.98 L110.03,407.64 L111.87,409.31 L113.72,411.00 L115.56,412.70 L117.41,414.41 L119.25,416.12 L121.09,417.83 L122.94,419.53 L124.78,421.23 L126.62,422.92 L128.47,424.59 L130.31,426.23 L132.16,427.86 L134.00,429.45 L135.84,431.02 L137.69,432.55 L139.53,434.05 L141.37,435.51 L143.22,436.93 L145.06,438.31 L146.90,439.64 L148.75,440.94 L150.59,442.18 L152.44,443.38 L154.28,444.54 L156.12,445.65 L157.97,446.71 L159.81,447.73 L161.65,448.70 L163.50,449.63 L165.34,450.52 L167.19,451.36 L169.03,452.16 L170.87,452.92 L172.72,453.65 L174.56,454.33 L176.40,454.98 L178.25,455.60 L180.09,456.18 L181.94,456.73 L183.78,457.24 L185.62,457.73 L187.47,458.19 L189.31,458.63 L191.15,459.04 L193.00,459.42" stroke="#8c1234" stroke-width="1.4" fill="none" stroke-dasharray="1.1 0.8"/>
<path d="M45.50,434.23 L47.33,434.98 L49.16,435.73 L50.99,436.46 L52.82,437.18 L54.65,437.88 L56.48,438.58 L58.31,439.27 L60.14,439.94 L61.97,440.60 L63.80,441.25 L65.63,441.89 L67.46,442.52 L69.29,443.13 L71.12,443.74 L72.95,444.33 L74.78,444.91 L76.61,445.47 L78.44,446.03 L80.27,446.57 L82.10,447.10 L83.93,447.62 L85.76,448.13 L87.59,448.62 L89.42,449.11 L91.25,449.58 L93.08,450.04 L94.91,450.49 L96.74,450.93 L98.57,451.36 L100.40,451.77 L102.23,452.18 L104.06,452.57 L105.89,452.96 L107.72,453.33 L109.55,453.70 L111.38,454.05 L113.21,454.40 L115.04,454.73 L116.87,455.06 L118.70,455.38 L120.53,455.69 L122.36,455.99 L124.19,456.28 L126.02,456.56 L127.85,456.83 L129.68,457.10 L131.51,457.36 L133.34,457.61 L135.17,457.85 L137.00,458.09 L138.83,458.32 L140.66,458.54 L142.49,458.75 L144.32,458.96 L146.15,459.16 L147.98,459.36 L149.81,459.55 L151.64,459.73 L153.47,459.91 L155.30,460.09 L157.13,460.25 L158.96,460.41 L160.79,460.57 L162.62,460.72 L164.45,460.87 L166.28,461.01 L168.11,461.15 L169.94,461.28 L171.77,461.41 L173.60,461.54 L175.43,461.66 L177.26,461.77 L179.09,461.89 L180.92,462.00 L182.75,462.10 L184.58,462.20 L186.41,462.30 L188.24,462.40 L190.07,462.49 L191.90,462.58" stroke="#2b4a7a" stroke-width="1.5" fill="none" stroke-dasharray="3 1.4"/>
<line x1="99.56263792273964" y1="364.2" x2="99.56263792273964" y2="370.4" stroke="#6a9a45" stroke-width="0.9"/>
<line x1="97.96263792273965" y1="364.2" x2="101.16263792273963" y2="364.2" stroke="#6a9a45" stroke-width="0.9"/>
<line x1="97.96263792273965" y1="370.4" x2="101.16263792273963" y2="370.4" stroke="#6a9a45" stroke-width="0.9"/>
<path d="M97.66263792273963,368.71999999999997 L101.46263792273965,368.71999999999997 L99.56263792273964,365.49 Z" stroke="none" stroke-width="1" fill="#7aab4c"/>
<line x1="118.7" y1="366.5" x2="118.7" y2="374.5" stroke="#6a9a45" stroke-width="0.9"/>
<line x1="117.10000000000001" y1="366.5" x2="120.3" y2="366.5" stroke="#6a9a45" stroke-width="0.9"/>
<line x1="117.10000000000001" y1="374.5" x2="120.3" y2="374.5" stroke="#6a9a45" stroke-width="0.9"/>
<path d="M116.8,372.02 L120.60000000000001,372.02 L118.7,368.79 Z" stroke="none" stroke-width="1" fill="#7aab4c"/>
<line x1="136.16263792273963" y1="380" x2="136.16263792273963" y2="386.5" stroke="#6a9a45" stroke-width="0.9"/>
<line x1="134.56263792273964" y1="380" x2="137.76263792273963" y2="380" stroke="#6a9a45" stroke-width="0.9"/>
<line x1="134.56263792273964" y1="386.5" x2="137.76263792273963" y2="386.5" stroke="#6a9a45" stroke-width="0.9"/>
<path d="M134.26263792273963,385.02 L138.06263792273964,385.02 L136.16263792273963,381.79 Z" stroke="none" stroke-width="1" fill="#7aab4c"/>
<line x1="155.3" y1="391.5" x2="155.3" y2="395.5" stroke="#6a9a45" stroke-width="0.9"/>
<line x1="153.70000000000002" y1="391.5" x2="156.9" y2="391.5" stroke="#6a9a45" stroke-width="0.9"/>
<line x1="153.70000000000002" y1="395.5" x2="156.9" y2="395.5" stroke="#6a9a45" stroke-width="0.9"/>
<path d="M153.4,395.12 L157.20000000000002,395.12 L155.3,391.89000000000004 Z" stroke="none" stroke-width="1" fill="#7aab4c"/>
<line x1="172.76263792273966" y1="405" x2="172.76263792273966" y2="410.5" stroke="#6a9a45" stroke-width="0.9"/>
<line x1="171.16263792273966" y1="405" x2="174.36263792273965" y2="405" stroke="#6a9a45" stroke-width="0.9"/>
<line x1="171.16263792273966" y1="410.5" x2="174.36263792273965" y2="410.5" stroke="#6a9a45" stroke-width="0.9"/>
<path d="M170.86263792273965,409.52 L174.66263792273966,409.52 L172.76263792273966,406.29 Z" stroke="none" stroke-width="1" fill="#7aab4c"/>
<line x1="191.9" y1="416.5" x2="191.9" y2="421" stroke="#6a9a45" stroke-width="0.9"/>
<line x1="190.3" y1="416.5" x2="193.5" y2="416.5" stroke="#6a9a45" stroke-width="0.9"/>
<line x1="190.3" y1="421" x2="193.5" y2="421" stroke="#6a9a45" stroke-width="0.9"/>
<path d="M190.0,420.32 L193.8,420.32 L191.9,417.09000000000003 Z" stroke="none" stroke-width="1" fill="#7aab4c"/>
<line x1="99.56263792273964" y1="391.5" x2="99.56263792273964" y2="403.8" stroke="#8e1a3c" stroke-width="1"/>
<line x1="97.76263792273964" y1="391.5" x2="101.36263792273964" y2="391.5" stroke="#8e1a3c" stroke-width="1"/>
<line x1="97.76263792273964" y1="403.8" x2="101.36263792273964" y2="403.8" stroke="#8e1a3c" stroke-width="1"/>
<rect x="97.21263792273965" y="394.95" width="4.7" height="4.7" fill="#ad0f3a" stroke="none" stroke-width="0"/>
<line x1="118.7" y1="406.3" x2="118.7" y2="428.3" stroke="#8e1a3c" stroke-width="1"/>
<line x1="116.9" y1="406.3" x2="120.5" y2="406.3" stroke="#8e1a3c" stroke-width="1"/>
<line x1="116.9" y1="428.3" x2="120.5" y2="428.3" stroke="#8e1a3c" stroke-width="1"/>
<rect x="116.35000000000001" y="414.95" width="4.7" height="4.7" fill="#ad0f3a" stroke="none" stroke-width="0"/>
<line x1="136.16263792273963" y1="426" x2="136.16263792273963" y2="435" stroke="#8e1a3c" stroke-width="1"/>
<line x1="134.36263792273962" y1="426" x2="137.96263792273965" y2="426" stroke="#8e1a3c" stroke-width="1"/>
<line x1="134.36263792273962" y1="435" x2="137.96263792273965" y2="435" stroke="#8e1a3c" stroke-width="1"/>
<rect x="133.81263792273964" y="428.15" width="4.7" height="4.7" fill="#ad0f3a" stroke="none" stroke-width="0"/>
<line x1="155.3" y1="438" x2="155.3" y2="446" stroke="#8e1a3c" stroke-width="1"/>
<line x1="153.5" y1="438" x2="157.10000000000002" y2="438" stroke="#8e1a3c" stroke-width="1"/>
<line x1="153.5" y1="446" x2="157.10000000000002" y2="446" stroke="#8e1a3c" stroke-width="1"/>
<rect x="152.95000000000002" y="439.84999999999997" width="4.7" height="4.7" fill="#ad0f3a" stroke="none" stroke-width="0"/>
<line x1="172.76263792273966" y1="451" x2="172.76263792273966" y2="457" stroke="#8e1a3c" stroke-width="1"/>
<line x1="170.96263792273965" y1="451" x2="174.56263792273967" y2="451" stroke="#8e1a3c" stroke-width="1"/>
<line x1="170.96263792273965" y1="457" x2="174.56263792273967" y2="457" stroke="#8e1a3c" stroke-width="1"/>
<rect x="170.41263792273966" y="451.84999999999997" width="4.7" height="4.7" fill="#ad0f3a" stroke="none" stroke-width="0"/>
<line x1="191.9" y1="461" x2="191.9" y2="464" stroke="#8e1a3c" stroke-width="1"/>
<line x1="190.1" y1="461" x2="193.70000000000002" y2="461" stroke="#8e1a3c" stroke-width="1"/>
<line x1="190.1" y1="464" x2="193.70000000000002" y2="464" stroke="#8e1a3c" stroke-width="1"/>
<rect x="189.55" y="459.95" width="4.7" height="4.7" fill="#ad0f3a" stroke="none" stroke-width="0"/>
<line x1="99.56263792273964" y1="451" x2="99.56263792273964" y2="453.5" stroke="#2b4a7a" stroke-width="0.9"/>
<line x1="97.96263792273965" y1="451" x2="101.16263792273963" y2="451" stroke="#2b4a7a" stroke-width="0.9"/>
<line x1="97.96263792273965" y1="453.5" x2="101.16263792273963" y2="453.5" stroke="#2b4a7a" stroke-width="0.9"/>
<rect x="97.96263792273965" y="450.4" width="3.2" height="3.6" fill="#2b4a7a" stroke="none" stroke-width="0"/>
<line x1="118.7" y1="452" x2="118.7" y2="460.5" stroke="#2b4a7a" stroke-width="0.9"/>
<line x1="117.10000000000001" y1="452" x2="120.3" y2="452" stroke="#2b4a7a" stroke-width="0.9"/>
<line x1="117.10000000000001" y1="460.5" x2="120.3" y2="460.5" stroke="#2b4a7a" stroke-width="0.9"/>
<path d="M116.9,454.96 L120.5,454.96 L118.7,458.02 Z" stroke="none" stroke-width="1" fill="#2b4a7a"/>
<line x1="136.16263792273963" y1="456.5" x2="136.16263792273963" y2="460" stroke="#2b4a7a" stroke-width="0.9"/>
<line x1="134.56263792273964" y1="456.5" x2="137.76263792273963" y2="456.5" stroke="#2b4a7a" stroke-width="0.9"/>
<line x1="134.56263792273964" y1="460" x2="137.76263792273963" y2="460" stroke="#2b4a7a" stroke-width="0.9"/>
<rect x="134.56263792273964" y="456.4" width="3.2" height="3.6" fill="#2b4a7a" stroke="none" stroke-width="0"/>
<line x1="155.3" y1="458.5" x2="155.3" y2="461" stroke="#2b4a7a" stroke-width="0.9"/>
<line x1="153.70000000000002" y1="458.5" x2="156.9" y2="458.5" stroke="#2b4a7a" stroke-width="0.9"/>
<line x1="153.70000000000002" y1="461" x2="156.9" y2="461" stroke="#2b4a7a" stroke-width="0.9"/>
<rect x="153.70000000000002" y="458.0" width="3.2" height="3.6" fill="#2b4a7a" stroke="none" stroke-width="0"/>
<line x1="172.76263792273966" y1="460.5" x2="172.76263792273966" y2="463" stroke="#2b4a7a" stroke-width="0.9"/>
<line x1="171.16263792273966" y1="460.5" x2="174.36263792273965" y2="460.5" stroke="#2b4a7a" stroke-width="0.9"/>
<line x1="171.16263792273966" y1="463" x2="174.36263792273965" y2="463" stroke="#2b4a7a" stroke-width="0.9"/>
<rect x="171.16263792273966" y="460.0" width="3.2" height="3.6" fill="#2b4a7a" stroke="none" stroke-width="0"/>
<line x1="191.9" y1="461.5" x2="191.9" y2="463.5" stroke="#2b4a7a" stroke-width="0.9"/>
<line x1="190.3" y1="461.5" x2="193.5" y2="461.5" stroke="#2b4a7a" stroke-width="0.9"/>
<line x1="190.3" y1="463.5" x2="193.5" y2="463.5" stroke="#2b4a7a" stroke-width="0.9"/>
<rect x="190.3" y="460.7" width="3.2" height="3.6" fill="#2b4a7a" stroke="none" stroke-width="0"/>
<line x1="322.8" y1="306.4" x2="459.2" y2="306.4" stroke="#111" stroke-width="1.5"/>
<line x1="322.8" y1="316.5" x2="459.2" y2="316.5" stroke="#111" stroke-width="1.1"/>
<line x1="322.8" y1="326.4" x2="459.2" y2="326.4" stroke="#111" stroke-width="1.1"/>
<line x1="322.8" y1="336.4" x2="459.2" y2="336.4" stroke="#111" stroke-width="1.1"/>
<line x1="361.9" y1="296.3" x2="361.9" y2="346.8" stroke="#111" stroke-width="1.1"/>
<line x1="412.8" y1="296.3" x2="412.8" y2="346.8" stroke="#111" stroke-width="1.1"/>
<text stroke="#111" x="325.7" y="302.8" font-size="7.4" text-anchor="start" fill="#111" font-weight="bold" textLength="29.6" lengthAdjust="spacingAndGlyphs">Cell Line</text>
<text stroke="#111" x="372.2" y="303.3" font-size="7.4" font-weight="bold" fill="#111">IC<tspan font-size="5.2" dy="1.8">50</tspan><tspan dy="-1.8"> [nM]</tspan></text>
<text stroke="#111" x="419.7" y="302.6" font-size="7.4" text-anchor="start" fill="#111" font-weight="bold" textLength="32.4" lengthAdjust="spacingAndGlyphs">Hill Slope</text>
<text stroke="#8f2148" x="337.7" y="313.6" font-size="7.3" text-anchor="start" fill="#8f2148" font-weight="normal" textLength="17.3" lengthAdjust="spacingAndGlyphs">MyLa</text>
<text stroke="#86b466" x="337.7" y="323.7" font-size="7.3" text-anchor="start" fill="#86b466" font-weight="normal" textLength="15.9" lengthAdjust="spacingAndGlyphs">Sez4</text>
<text stroke="#453a58" x="337.7" y="333.8" font-size="7.3" text-anchor="start" fill="#453a58" font-weight="normal" textLength="10.1" lengthAdjust="spacingAndGlyphs">HH</text>
<text stroke="#8eaed6" x="337.7" y="344.4" font-size="7.3" text-anchor="start" fill="#8eaed6" font-weight="normal" textLength="19.3" lengthAdjust="spacingAndGlyphs">Hut78</text>
<line x1="323.8" y1="310.8" x2="335.8" y2="310.8" stroke="#7a1030" stroke-width="1.3" stroke-dasharray="3.2 1.1"/>
<circle cx="329.5" cy="310.8" r="1.9" fill="#8a1538"/>
<line x1="323.8" y1="321.3" x2="335.8" y2="321.3" stroke="#7db35a" stroke-width="1.1" stroke-dasharray="1 1"/>
<circle cx="329.5" cy="321.3" r="1.5" fill="#6aa048"/>
<line x1="323.8" y1="331.4" x2="335.8" y2="331.4" stroke="#3b2550" stroke-width="1.3" stroke-dasharray="3.2 1.1"/>
<path d="M327.7,332.64 L331.3,332.64 L329.5,329.58 Z" stroke="none" stroke-width="1" fill="#3b2550"/>
<line x1="323.8" y1="341.8" x2="335.8" y2="341.8" stroke="#7fb0de" stroke-width="1.1" stroke-dasharray="1 1"/>
<rect x="327.8" y="340.1" width="3.4" height="3.4" fill="#7fb0de" stroke="none" stroke-width="0"/>
<text stroke="#1c1c1c" x="369" y="313.7" font-size="7.6" text-anchor="start" fill="#1c1c1c" font-weight="normal" textLength="37" lengthAdjust="spacingAndGlyphs">2470 ± 270</text>
<text stroke="#1c1c1c" x="369.5" y="323.7" font-size="7.6" text-anchor="start" fill="#1c1c1c" font-weight="normal" textLength="36.5" lengthAdjust="spacingAndGlyphs">7440 ± 620</text>
<text stroke="#1c1c1c" x="365.3" y="333.5" font-size="7.6" text-anchor="start" fill="#1c1c1c" font-weight="normal" textLength="40.2" lengthAdjust="spacingAndGlyphs">10200 ± 440</text>
<text stroke="#1c1c1c" x="365.3" y="343.9" font-size="7.6" text-anchor="start" fill="#1c1c1c" font-weight="normal" textLength="40.2" lengthAdjust="spacingAndGlyphs">33600 ± 160</text>
<text stroke="#1c1c1c" x="416.1" y="313.5" font-size="7.6" text-anchor="start" fill="#1c1c1c" font-weight="normal" textLength="36.2" lengthAdjust="spacingAndGlyphs">1.17 ± 0.15</text>
<text stroke="#1c1c1c" x="416.1" y="323.5" font-size="7.6" text-anchor="start" fill="#1c1c1c" font-weight="normal" textLength="36.2" lengthAdjust="spacingAndGlyphs">1.96 ± 0.29</text>
<text stroke="#1c1c1c" x="416.1" y="333.5" font-size="7.6" text-anchor="start" fill="#1c1c1c" font-weight="normal" textLength="35.4" lengthAdjust="spacingAndGlyphs">3.45 ± 0.47</text>
<text stroke="#1c1c1c" x="416.1" y="343.9" font-size="7.6" text-anchor="start" fill="#1c1c1c" font-weight="normal" textLength="36.2" lengthAdjust="spacingAndGlyphs">1.65 ± 0.12</text>
<line x1="309.5" y1="330.5" x2="309.5" y2="465.3" stroke="#111" stroke-width="1.3"/>
<line x1="306.4" y1="366.70000000000005" x2="309.5" y2="366.70000000000005" stroke="#111" stroke-width="1.1"/>
<text stroke="#1c1c1c" x="304.1" y="369.20000000000005" font-size="7.6" text-anchor="end" fill="#1c1c1c" font-weight="normal">100</text>
<line x1="306.4" y1="391.3" x2="309.5" y2="391.3" stroke="#111" stroke-width="1.1"/>
<text stroke="#1c1c1c" x="304.1" y="393.8" font-size="7.6" text-anchor="end" fill="#1c1c1c" font-weight="normal">75</text>
<line x1="306.4" y1="415.90000000000003" x2="309.5" y2="415.90000000000003" stroke="#111" stroke-width="1.1"/>
<text stroke="#1c1c1c" x="304.1" y="418.40000000000003" font-size="7.6" text-anchor="end" fill="#1c1c1c" font-weight="normal">50</text>
<line x1="306.4" y1="440.5" x2="309.5" y2="440.5" stroke="#111" stroke-width="1.1"/>
<text stroke="#1c1c1c" x="304.1" y="443.0" font-size="7.6" text-anchor="end" fill="#1c1c1c" font-weight="normal">25</text>
<line x1="308.9" y1="464.9" x2="506" y2="464.9" stroke="#111" stroke-width="1.3"/>
<line x1="309.5" y1="464.9" x2="309.5" y2="468.4" stroke="#111" stroke-width="1"/>
<text stroke="#1c1c1c" x="308.8" y="477.7" font-size="6.8" text-anchor="middle" fill="#1c1c1c">10<tspan font-size="4.8" dy="-2.6">0</tspan></text>
<line x1="320.6381098395673" y1="464.9" x2="320.6381098395673" y2="466.9" stroke="#111" stroke-width="0.7"/>
<line x1="327.1534864246275" y1="464.9" x2="327.1534864246275" y2="466.9" stroke="#111" stroke-width="0.7"/>
<line x1="331.7762196791346" y1="464.9" x2="331.7762196791346" y2="466.9" stroke="#111" stroke-width="0.7"/>
<line x1="335.3618901604327" y1="464.9" x2="335.3618901604327" y2="466.9" stroke="#111" stroke-width="0.7"/>
<line x1="338.2915962641948" y1="464.9" x2="338.2915962641948" y2="466.9" stroke="#111" stroke-width="0.7"/>
<line x1="340.7686274805275" y1="464.9" x2="340.7686274805275" y2="466.9" stroke="#111" stroke-width="0.7"/>
<line x1="342.9143295187019" y1="464.9" x2="342.9143295187019" y2="466.9" stroke="#111" stroke-width="0.7"/>
<line x1="344.80697284925503" y1="464.9" x2="344.80697284925503" y2="466.9" stroke="#111" stroke-width="0.7"/>
<line x1="346.5" y1="464.9" x2="346.5" y2="468.4" stroke="#111" stroke-width="1"/>
<text stroke="#1c1c1c" x="345.8" y="477.7" font-size="6.8" text-anchor="middle" fill="#1c1c1c">10<tspan font-size="4.8" dy="-2.6">1</tspan></text>
<line x1="357.6381098395673" y1="464.9" x2="357.6381098395673" y2="466.9" stroke="#111" stroke-width="0.7"/>
<line x1="364.1534864246275" y1="464.9" x2="364.1534864246275" y2="466.9" stroke="#111" stroke-width="0.7"/>
<line x1="368.7762196791346" y1="464.9" x2="368.7762196791346" y2="466.9" stroke="#111" stroke-width="0.7"/>
<line x1="372.3618901604327" y1="464.9" x2="372.3618901604327" y2="466.9" stroke="#111" stroke-width="0.7"/>
<line x1="375.2915962641948" y1="464.9" x2="375.2915962641948" y2="466.9" stroke="#111" stroke-width="0.7"/>
<line x1="377.7686274805275" y1="464.9" x2="377.7686274805275" y2="466.9" stroke="#111" stroke-width="0.7"/>
<line x1="379.9143295187019" y1="464.9" x2="379.9143295187019" y2="466.9" stroke="#111" stroke-width="0.7"/>
<line x1="381.80697284925503" y1="464.9" x2="381.80697284925503" y2="466.9" stroke="#111" stroke-width="0.7"/>
<line x1="383.5" y1="464.9" x2="383.5" y2="468.4" stroke="#111" stroke-width="1"/>
<text stroke="#1c1c1c" x="382.8" y="477.7" font-size="6.8" text-anchor="middle" fill="#1c1c1c">10<tspan font-size="4.8" dy="-2.6">2</tspan></text>
<line x1="394.6381098395673" y1="464.9" x2="394.6381098395673" y2="466.9" stroke="#111" stroke-width="0.7"/>
<line x1="401.1534864246275" y1="464.9" x2="401.1534864246275" y2="466.9" stroke="#111" stroke-width="0.7"/>
<line x1="405.7762196791346" y1="464.9" x2="405.7762196791346" y2="466.9" stroke="#111" stroke-width="0.7"/>
<line x1="409.3618901604327" y1="464.9" x2="409.3618901604327" y2="466.9" stroke="#111" stroke-width="0.7"/>
<line x1="412.2915962641948" y1="464.9" x2="412.2915962641948" y2="466.9" stroke="#111" stroke-width="0.7"/>
<line x1="414.7686274805275" y1="464.9" x2="414.7686274805275" y2="466.9" stroke="#111" stroke-width="0.7"/>
<line x1="416.9143295187019" y1="464.9" x2="416.9143295187019" y2="466.9" stroke="#111" stroke-width="0.7"/>
<line x1="418.80697284925503" y1="464.9" x2="418.80697284925503" y2="466.9" stroke="#111" stroke-width="0.7"/>
<line x1="420.5" y1="464.9" x2="420.5" y2="468.4" stroke="#111" stroke-width="1"/>
<text stroke="#1c1c1c" x="419.8" y="477.7" font-size="6.8" text-anchor="middle" fill="#1c1c1c">10<tspan font-size="4.8" dy="-2.6">3</tspan></text>
<line x1="431.6381098395673" y1="464.9" x2="431.6381098395673" y2="466.9" stroke="#111" stroke-width="0.7"/>
<line x1="438.1534864246275" y1="464.9" x2="438.1534864246275" y2="466.9" stroke="#111" stroke-width="0.7"/>
<line x1="442.7762196791346" y1="464.9" x2="442.7762196791346" y2="466.9" stroke="#111" stroke-width="0.7"/>
<line x1="446.3618901604327" y1="464.9" x2="446.3618901604327" y2="466.9" stroke="#111" stroke-width="0.7"/>
<line x1="449.2915962641948" y1="464.9" x2="449.2915962641948" y2="466.9" stroke="#111" stroke-width="0.7"/>
<line x1="451.7686274805275" y1="464.9" x2="451.7686274805275" y2="466.9" stroke="#111" stroke-width="0.7"/>
<line x1="453.9143295187019" y1="464.9" x2="453.9143295187019" y2="466.9" stroke="#111" stroke-width="0.7"/>
<line x1="455.80697284925503" y1="464.9" x2="455.80697284925503" y2="466.9" stroke="#111" stroke-width="0.7"/>
<line x1="457.5" y1="464.9" x2="457.5" y2="468.4" stroke="#111" stroke-width="1"/>
<text stroke="#1c1c1c" x="456.8" y="477.7" font-size="6.8" text-anchor="middle" fill="#1c1c1c">10<tspan font-size="4.8" dy="-2.6">4</tspan></text>
<line x1="468.6381098395673" y1="464.9" x2="468.6381098395673" y2="466.9" stroke="#111" stroke-width="0.7"/>
<line x1="475.1534864246275" y1="464.9" x2="475.1534864246275" y2="466.9" stroke="#111" stroke-width="0.7"/>
<line x1="479.7762196791346" y1="464.9" x2="479.7762196791346" y2="466.9" stroke="#111" stroke-width="0.7"/>
<line x1="483.3618901604327" y1="464.9" x2="483.3618901604327" y2="466.9" stroke="#111" stroke-width="0.7"/>
<line x1="486.2915962641948" y1="464.9" x2="486.2915962641948" y2="466.9" stroke="#111" stroke-width="0.7"/>
<line x1="488.7686274805275" y1="464.9" x2="488.7686274805275" y2="466.9" stroke="#111" stroke-width="0.7"/>
<line x1="490.9143295187019" y1="464.9" x2="490.9143295187019" y2="466.9" stroke="#111" stroke-width="0.7"/>
<line x1="492.80697284925503" y1="464.9" x2="492.80697284925503" y2="466.9" stroke="#111" stroke-width="0.7"/>
<line x1="494.5" y1="464.9" x2="494.5" y2="468.4" stroke="#111" stroke-width="1"/>
<text stroke="#1c1c1c" x="493.8" y="477.7" font-size="6.8" text-anchor="middle" fill="#1c1c1c">10<tspan font-size="4.8" dy="-2.6">5</tspan></text>
<line x1="505.6381098395673" y1="464.9" x2="505.6381098395673" y2="466.9" stroke="#111" stroke-width="0.7"/>
<text stroke="#1c1c1c" transform="translate(286.4,392.2) rotate(-90)" font-size="9.1" text-anchor="middle" fill="#1c1c1c" textLength="78" lengthAdjust="spacingAndGlyphs">Viability (% control)</text>
<text stroke="#1c1c1c" x="403.6" y="489.4" font-size="8.9" text-anchor="middle" fill="#1c1c1c" font-weight="normal" textLength="63.5" lengthAdjust="spacingAndGlyphs">Venetoclax [nM]</text>
<path d="M309.50,366.60 C317.08,366.63 344.58,366.68 355.00,366.80 C365.42,366.92 366.40,366.92 372.00,367.30 C377.60,367.68 384.03,368.25 388.60,369.10 C393.17,369.95 396.03,370.82 399.40,372.40 C402.77,373.98 406.10,376.40 408.80,378.60 C411.50,380.80 413.18,382.62 415.60,385.60 C418.02,388.58 420.97,392.52 423.30,396.50 C425.63,400.48 427.52,405.63 429.60,409.50 C431.68,413.37 433.72,416.48 435.80,419.70 C437.88,422.92 440.02,425.90 442.10,428.80 C444.18,431.70 446.40,434.50 448.30,437.10 C450.20,439.70 452.30,442.75 453.50,444.40 C454.70,446.05 455.17,446.57 455.50,447.00" stroke="#4a0c20" stroke-width="1.9" fill="none" stroke-dasharray="2.4 1.2"/>
<path d="M309.50,366.50 C324.58,366.52 381.58,366.38 400.00,366.60 C418.42,366.82 414.83,366.65 420.00,367.80 C425.17,368.95 428.17,371.72 431.00,373.50 C433.83,375.28 435.25,376.42 437.00,378.50 C438.75,380.58 440.08,383.08 441.50,386.00 C442.92,388.92 444.25,392.83 445.50,396.00 C446.75,399.17 447.82,401.25 449.00,405.00 C450.18,408.75 451.32,413.85 452.60,418.50 C453.88,423.15 455.33,428.07 456.70,432.90 C458.07,437.73 459.25,443.15 460.80,447.50 C462.35,451.85 464.07,456.13 466.00,459.00 C467.93,461.87 471.33,463.75 472.40,464.70" stroke="#7db35a" stroke-width="1.1" fill="none" stroke-dasharray="1 0.8"/>
<path d="M309.50,366.50 C324.58,366.52 379.92,366.42 400.00,366.60 C420.08,366.78 422.83,366.90 430.00,367.60 C437.17,368.30 439.83,369.82 443.00,370.80 C446.17,371.78 446.97,372.37 449.00,373.50 C451.03,374.63 453.28,375.92 455.20,377.60 C457.12,379.28 458.73,380.78 460.50,383.60 C462.27,386.42 464.13,390.93 465.80,394.50 C467.47,398.07 468.80,401.33 470.50,405.00 C472.20,408.67 474.17,412.67 476.00,416.50 C477.83,420.33 479.75,424.25 481.50,428.00 C483.25,431.75 484.88,435.47 486.50,439.00 C488.12,442.53 490.42,447.50 491.20,449.20" stroke="#7fb0de" stroke-width="1.2" fill="none" stroke-dasharray="1 0.8"/>
<path d="M309.50,366.50 C327.92,366.52 398.92,366.35 420.00,366.60 C441.08,366.85 432.33,367.23 436.00,368.00 C439.67,368.77 440.33,370.12 442.00,371.20 C443.67,372.28 444.83,372.95 446.00,374.50 C447.17,376.05 448.08,377.93 449.00,380.50 C449.92,383.07 450.73,386.75 451.50,389.90 C452.27,393.05 452.93,396.05 453.60,399.40 C454.27,402.75 454.73,405.40 455.50,410.00 C456.27,414.60 457.13,421.45 458.20,427.00 C459.27,432.55 460.77,438.84 461.90,443.30 C463.03,447.76 463.65,450.80 465.00,453.75 C466.35,456.70 468.17,459.18 470.00,461.00 C471.83,462.82 475.00,464.08 476.00,464.70" stroke="#2e1c3e" stroke-width="1.7" fill="none" stroke-dasharray="1.6 0.9"/>
<line x1="426.4" y1="362.5" x2="426.4" y2="371.9" stroke="#7fb0de" stroke-width="0.9"/>
<line x1="424.7" y1="362.5" x2="428.09999999999997" y2="362.5" stroke="#7fb0de" stroke-width="0.9"/>
<line x1="424.7" y1="371.9" x2="428.09999999999997" y2="371.9" stroke="#7fb0de" stroke-width="0.9"/>
<rect x="424.5" y="366.70000000000005" width="3.8" height="3.8" fill="#86b4e0" stroke="none" stroke-width="0"/>
<line x1="437.9" y1="363.2" x2="437.9" y2="374.5" stroke="#7fb0de" stroke-width="0.9"/>
<line x1="436.2" y1="363.2" x2="439.59999999999997" y2="363.2" stroke="#7fb0de" stroke-width="0.9"/>
<line x1="436.2" y1="374.5" x2="439.59999999999997" y2="374.5" stroke="#7fb0de" stroke-width="0.9"/>
<rect x="436.0" y="367.3" width="3.8" height="3.8" fill="#86b4e0" stroke="none" stroke-width="0"/>
<line x1="449.5" y1="366.5" x2="449.5" y2="378.8" stroke="#7fb0de" stroke-width="0.9"/>
<line x1="447.8" y1="366.5" x2="451.2" y2="366.5" stroke="#7fb0de" stroke-width="0.9"/>
<line x1="447.8" y1="378.8" x2="451.2" y2="378.8" stroke="#7fb0de" stroke-width="0.9"/>
<rect x="447.6" y="371.20000000000005" width="3.8" height="3.8" fill="#86b4e0" stroke="none" stroke-width="0"/>
<line x1="460.1" y1="376.4" x2="460.1" y2="391.1" stroke="#7fb0de" stroke-width="0.9"/>
<line x1="458.40000000000003" y1="376.4" x2="461.8" y2="376.4" stroke="#7fb0de" stroke-width="0.9"/>
<line x1="458.40000000000003" y1="391.1" x2="461.8" y2="391.1" stroke="#7fb0de" stroke-width="0.9"/>
<rect x="458.20000000000005" y="382.3" width="3.8" height="3.8" fill="#86b4e0" stroke="none" stroke-width="0"/>
<rect x="469.20000000000005" y="404.3" width="3.8" height="3.8" fill="#86b4e0" stroke="none" stroke-width="0"/>
<line x1="481.9" y1="423" x2="481.9" y2="432" stroke="#7fb0de" stroke-width="0.9"/>
<line x1="480.2" y1="423" x2="483.59999999999997" y2="423" stroke="#7fb0de" stroke-width="0.9"/>
<line x1="480.2" y1="432" x2="483.59999999999997" y2="432" stroke="#7fb0de" stroke-width="0.9"/>
<rect x="480.0" y="425.5" width="3.8" height="3.8" fill="#86b4e0" stroke="none" stroke-width="0"/>
<rect x="491.40000000000003" y="456.3" width="3.8" height="3.8" fill="#86b4e0" stroke="none" stroke-width="0"/>
<line x1="417" y1="368.6" x2="417" y2="385.4" stroke="#7db35a" stroke-width="0.9"/>
<line x1="415.3" y1="368.6" x2="418.7" y2="368.6" stroke="#7db35a" stroke-width="0.9"/>
<line x1="415.3" y1="385.4" x2="418.7" y2="385.4" stroke="#7db35a" stroke-width="0.9"/>
<circle cx="417" cy="377.3" r="1.6" fill="#70a84c"/>
<line x1="428.1" y1="372.5" x2="428.1" y2="394.2" stroke="#7db35a" stroke-width="0.9"/>
<line x1="426.40000000000003" y1="372.5" x2="429.8" y2="372.5" stroke="#7db35a" stroke-width="0.9"/>
<line x1="426.40000000000003" y1="394.2" x2="429.8" y2="394.2" stroke="#7db35a" stroke-width="0.9"/>
<circle cx="428.1" cy="383.9" r="1.6" fill="#70a84c"/>
<line x1="439.2" y1="376.8" x2="439.2" y2="396.8" stroke="#7db35a" stroke-width="0.9"/>
<line x1="437.5" y1="376.8" x2="440.9" y2="376.8" stroke="#7db35a" stroke-width="0.9"/>
<line x1="437.5" y1="396.8" x2="440.9" y2="396.8" stroke="#7db35a" stroke-width="0.9"/>
<circle cx="439.2" cy="387.4" r="1.6" fill="#70a84c"/>
<line x1="450.4" y1="394.9" x2="450.4" y2="406.4" stroke="#7db35a" stroke-width="0.9"/>
<line x1="448.7" y1="394.9" x2="452.09999999999997" y2="394.9" stroke="#7db35a" stroke-width="0.9"/>
<line x1="448.7" y1="406.4" x2="452.09999999999997" y2="406.4" stroke="#7db35a" stroke-width="0.9"/>
<circle cx="450.4" cy="400.6" r="1.6" fill="#70a84c"/>
<circle cx="460.8" cy="450.4" r="1.6" fill="#70a84c"/>
<circle cx="472.4" cy="464.4" r="1.6" fill="#70a84c"/>
<line x1="410.7" y1="353.3" x2="410.7" y2="367.9" stroke="#3b2550" stroke-width="1"/>
<line x1="408.9" y1="353.3" x2="412.5" y2="353.3" stroke="#3b2550" stroke-width="1"/>
<line x1="408.9" y1="367.9" x2="412.5" y2="367.9" stroke="#3b2550" stroke-width="1"/>
<path d="M408.8,362.91999999999996 L412.59999999999997,362.91999999999996 L410.7,359.69 Z" stroke="none" stroke-width="1" fill="#3b2550"/>
<line x1="421" y1="362.5" x2="421" y2="371.9" stroke="#3b2550" stroke-width="1"/>
<line x1="419.2" y1="362.5" x2="422.8" y2="362.5" stroke="#3b2550" stroke-width="1"/>
<line x1="419.2" y1="371.9" x2="422.8" y2="371.9" stroke="#3b2550" stroke-width="1"/>
<path d="M419.1,368.71999999999997 L422.9,368.71999999999997 L421,365.49 Z" stroke="none" stroke-width="1" fill="#3b2550"/>
<line x1="432.2" y1="351" x2="432.2" y2="366.5" stroke="#3b2550" stroke-width="1"/>
<line x1="430.4" y1="351" x2="434.0" y2="351" stroke="#3b2550" stroke-width="1"/>
<line x1="430.4" y1="366.5" x2="434.0" y2="366.5" stroke="#3b2550" stroke-width="1"/>
<path d="M430.3,360.02 L434.09999999999997,360.02 L432.2,356.79 Z" stroke="none" stroke-width="1" fill="#3b2550"/>
<line x1="442.8" y1="361.6" x2="442.8" y2="383" stroke="#3b2550" stroke-width="1"/>
<line x1="441.0" y1="361.6" x2="444.6" y2="361.6" stroke="#3b2550" stroke-width="1"/>
<line x1="441.0" y1="383" x2="444.6" y2="383" stroke="#3b2550" stroke-width="1"/>
<path d="M440.90000000000003,373.52 L444.7,373.52 L442.8,370.29 Z" stroke="none" stroke-width="1" fill="#3b2550"/>
<line x1="453.75" y1="391.8" x2="453.75" y2="415.2" stroke="#3b2550" stroke-width="1"/>
<line x1="451.95" y1="391.8" x2="455.55" y2="391.8" stroke="#3b2550" stroke-width="1"/>
<line x1="451.95" y1="415.2" x2="455.55" y2="415.2" stroke="#3b2550" stroke-width="1"/>
<path d="M451.85,406.32 L455.65,406.32 L453.75,403.09000000000003 Z" stroke="none" stroke-width="1" fill="#3b2550"/>
<line x1="464.5" y1="448" x2="464.5" y2="454" stroke="#3b2550" stroke-width="1"/>
<line x1="462.7" y1="448" x2="466.3" y2="448" stroke="#3b2550" stroke-width="1"/>
<line x1="462.7" y1="454" x2="466.3" y2="454" stroke="#3b2550" stroke-width="1"/>
<path d="M462.6,452.32 L466.4,452.32 L464.5,449.09000000000003 Z" stroke="none" stroke-width="1" fill="#3b2550"/>
<path d="M473.70000000000005,465.41999999999996 L477.5,465.41999999999996 L475.6,462.19 Z" stroke="none" stroke-width="1" fill="#3b2550"/>
<line x1="389.15" y1="349.3" x2="389.15" y2="383.4" stroke="#92203f" stroke-width="1"/>
<line x1="387.25" y1="349.3" x2="391.04999999999995" y2="349.3" stroke="#92203f" stroke-width="1"/>
<line x1="387.25" y1="383.4" x2="391.04999999999995" y2="383.4" stroke="#92203f" stroke-width="1"/>
<circle cx="389.15" cy="366.3" r="2.0" fill="#a8123c"/>
<line x1="399.9" y1="353.3" x2="399.9" y2="387" stroke="#92203f" stroke-width="1"/>
<line x1="398.0" y1="353.3" x2="401.79999999999995" y2="353.3" stroke="#92203f" stroke-width="1"/>
<line x1="398.0" y1="387" x2="401.79999999999995" y2="387" stroke="#92203f" stroke-width="1"/>
<circle cx="399.9" cy="369.9" r="2.0" fill="#a8123c"/>
<line x1="411" y1="358.5" x2="411" y2="387" stroke="#92203f" stroke-width="1"/>
<line x1="409.1" y1="358.5" x2="412.9" y2="358.5" stroke="#92203f" stroke-width="1"/>
<line x1="409.1" y1="387" x2="412.9" y2="387" stroke="#92203f" stroke-width="1"/>
<circle cx="411" cy="373.7" r="2.0" fill="#a8123c"/>
<line x1="422.4" y1="394.9" x2="422.4" y2="412.1" stroke="#92203f" stroke-width="1"/>
<line x1="420.5" y1="394.9" x2="424.29999999999995" y2="394.9" stroke="#92203f" stroke-width="1"/>
<line x1="420.5" y1="412.1" x2="424.29999999999995" y2="412.1" stroke="#92203f" stroke-width="1"/>
<circle cx="422.4" cy="403.1" r="2.0" fill="#a8123c"/>
<line x1="433.2" y1="416.8" x2="433.2" y2="425.1" stroke="#92203f" stroke-width="1"/>
<line x1="431.3" y1="416.8" x2="435.09999999999997" y2="416.8" stroke="#92203f" stroke-width="1"/>
<line x1="431.3" y1="425.1" x2="435.09999999999997" y2="425.1" stroke="#92203f" stroke-width="1"/>
<circle cx="433.2" cy="420.9" r="2.0" fill="#a8123c"/>
<circle cx="444.2" cy="429.6" r="2.0" fill="#a8123c"/>
<circle cx="455.1" cy="444.3" r="2.0" fill="#a8123c"/>
<text stroke="#000" x="6.6" y="513.2" font-size="11" text-anchor="start" fill="#000" font-weight="bold">C</text>
<line x1="45" y1="526" x2="45" y2="637.3" stroke="#111" stroke-width="1.5"/>
<line x1="41.3" y1="637.2" x2="45" y2="637.2" stroke="#111" stroke-width="1.1"/>
<text stroke="#1c1c1c" x="38.6" y="639.9000000000001" font-size="7.7" text-anchor="end" fill="#1c1c1c" font-weight="normal">0</text>
<line x1="41.3" y1="610.2700000000001" x2="45" y2="610.2700000000001" stroke="#111" stroke-width="1.1"/>
<text stroke="#1c1c1c" x="38.6" y="612.9700000000001" font-size="7.7" text-anchor="end" fill="#1c1c1c" font-weight="normal">1</text>
<line x1="41.3" y1="583.34" x2="45" y2="583.34" stroke="#111" stroke-width="1.1"/>
<text stroke="#1c1c1c" x="38.6" y="586.0400000000001" font-size="7.7" text-anchor="end" fill="#1c1c1c" font-weight="normal">2</text>
<line x1="41.3" y1="556.4100000000001" x2="45" y2="556.4100000000001" stroke="#111" stroke-width="1.1"/>
<text stroke="#1c1c1c" x="38.6" y="559.1100000000001" font-size="7.7" text-anchor="end" fill="#1c1c1c" font-weight="normal">3</text>
<line x1="41.3" y1="529.48" x2="45" y2="529.48" stroke="#111" stroke-width="1.1"/>
<text stroke="#1c1c1c" x="38.6" y="532.1800000000001" font-size="7.7" text-anchor="end" fill="#1c1c1c" font-weight="normal">4</text>
<line x1="44.3" y1="636.9" x2="153.1" y2="636.9" stroke="#111" stroke-width="1.4"/>
<line x1="75.4" y1="636.9" x2="75.4" y2="639.6" stroke="#111" stroke-width="1.0"/>
<line x1="121.5" y1="636.9" x2="121.5" y2="639.6" stroke="#111" stroke-width="1.0"/>
<text stroke="#1c1c1c" transform="translate(28.4,581.6) rotate(-90)" font-size="9.2" text-anchor="middle" fill="#1c1c1c" textLength="37.5" lengthAdjust="spacingAndGlyphs">Hill slope</text>
<text stroke="#1c1c1c" x="75.8" y="650.8" font-size="9.75" text-anchor="middle" fill="#1c1c1c" font-weight="normal" textLength="30.4" lengthAdjust="spacingAndGlyphs">Patient</text>
<text stroke="#1c1c1c" x="75.6" y="662.3" font-size="9.75" text-anchor="middle" fill="#1c1c1c" font-weight="normal" textLength="37.9" lengthAdjust="spacingAndGlyphs">Samples</text>
<text stroke="#1c1c1c" x="121.8" y="650.8" font-size="9.75" text-anchor="middle" fill="#1c1c1c" font-weight="normal" textLength="42.9" lengthAdjust="spacingAndGlyphs">Cell Lines</text>
<path d="M74.8,533.1 L74.8,527.5 L121.7,527.5 L121.7,533.1" stroke="#111" stroke-width="1.1" fill="none"/>
<text stroke="#1c1c1c" x="82.1" y="523.8" font-size="7.2" fill="#1c1c1c" textLength="32.3" lengthAdjust="spacingAndGlyphs"><tspan font-style="italic">P</tspan> &lt; .0001</text>
<line x1="60.1" y1="620.5" x2="90.9" y2="620.5" stroke="#2a4442" stroke-width="1.3"/>
<circle cx="65.9" cy="608" r="2.05" fill="#b0123e"/>
<circle cx="72.3" cy="609.9" r="2.05" fill="#b0123e"/>
<circle cx="78.8" cy="609.2" r="2.05" fill="#b0123e"/>
<circle cx="85.6" cy="604.8" r="2.05" fill="#b0123e"/>
<circle cx="63" cy="619.3" r="2.05" fill="#b0123e"/>
<circle cx="66.5" cy="618.6" r="2.05" fill="#b0123e"/>
<circle cx="70" cy="619" r="2.05" fill="#b0123e"/>
<circle cx="73.5" cy="618.4" r="2.05" fill="#b0123e"/>
<circle cx="77.5" cy="618.6" r="2.05" fill="#b0123e"/>
<circle cx="81" cy="618.8" r="2.05" fill="#b0123e"/>
<circle cx="84.5" cy="618.4" r="2.05" fill="#b0123e"/>
<circle cx="88" cy="619.3" r="2.05" fill="#b0123e"/>
<circle cx="64.5" cy="620.2" r="2.05" fill="#b0123e"/>
<circle cx="68.2" cy="620.4" r="2.05" fill="#b0123e"/>
<circle cx="71.8" cy="620.2" r="2.05" fill="#b0123e"/>
<circle cx="75.5" cy="620" r="2.05" fill="#b0123e"/>
<circle cx="79.2" cy="620.3" r="2.05" fill="#b0123e"/>
<circle cx="82.8" cy="620.2" r="2.05" fill="#b0123e"/>
<circle cx="86.3" cy="620.3" r="2.05" fill="#b0123e"/>
<circle cx="61.8" cy="621.8" r="2.05" fill="#b0123e"/>
<circle cx="63.8" cy="623.2" r="2.05" fill="#b0123e"/>
<circle cx="87.5" cy="623" r="2.05" fill="#b0123e"/>
<circle cx="89.5" cy="621.8" r="2.05" fill="#b0123e"/>
<circle cx="74.2" cy="622" r="2.05" fill="#b0123e"/>
<circle cx="76" cy="622.3" r="2.05" fill="#b0123e"/>
<circle cx="66.5" cy="625.3" r="2.05" fill="#b0123e"/>
<circle cx="70" cy="625.6" r="2.05" fill="#b0123e"/>
<circle cx="73.5" cy="625.3" r="2.05" fill="#b0123e"/>
<circle cx="77" cy="625.5" r="2.05" fill="#b0123e"/>
<circle cx="80.5" cy="625.2" r="2.05" fill="#b0123e"/>
<circle cx="84" cy="624.9" r="2.05" fill="#b0123e"/>
<circle cx="87" cy="624.6" r="2.05" fill="#b0123e"/>
<circle cx="68.5" cy="628" r="2.05" fill="#b0123e"/>
<circle cx="72" cy="628.3" r="2.05" fill="#b0123e"/>
<circle cx="75.5" cy="628.2" r="2.05" fill="#b0123e"/>
<circle cx="79" cy="627.8" r="2.05" fill="#b0123e"/>
<circle cx="82" cy="627.2" r="2.05" fill="#b0123e"/>
<line x1="75.5" y1="614" x2="75.5" y2="626" stroke="#2a4442" stroke-width="1.1"/>
<line x1="67.8" y1="614" x2="82.7" y2="614" stroke="#2a4442" stroke-width="1.3"/>
<line x1="121.7" y1="555.2" x2="121.7" y2="608.4" stroke="#17233a" stroke-width="1.4"/>
<line x1="114.3" y1="555.2" x2="129.4" y2="555.2" stroke="#17233a" stroke-width="1.4"/>
<line x1="114.3" y1="608.4" x2="129.4" y2="608.4" stroke="#17233a" stroke-width="1.4"/>
<line x1="106.1" y1="582" x2="137.6" y2="582" stroke="#17233a" stroke-width="1.4"/>
<circle cx="121.7" cy="544.3" r="2.1" fill="#304878"/>
<circle cx="121.7" cy="583.9" r="2.1" fill="#304878"/>
<circle cx="121.7" cy="593.2" r="2.1" fill="#304878"/>
<circle cx="121.7" cy="605.8" r="2.1" fill="#304878"/>
<text stroke="#000" x="166.8" y="513.3" font-size="11" text-anchor="start" fill="#000" font-weight="bold">D</text>
<line x1="219.6" y1="526.5" x2="219.6" y2="637.4" stroke="#111" stroke-width="1.5"/>
<line x1="216.5" y1="637.1" x2="219.6" y2="637.1" stroke="#111" stroke-width="1.1"/>
<text stroke="#1c1c1c" x="213.4" y="639.7" font-size="7.5" text-anchor="end" fill="#1c1c1c" font-weight="normal">-2000</text>
<line x1="216.5" y1="615.5500000000001" x2="219.6" y2="615.5500000000001" stroke="#111" stroke-width="1.1"/>
<text stroke="#1c1c1c" x="213.4" y="618.1500000000001" font-size="7.5" text-anchor="end" fill="#1c1c1c" font-weight="normal">0</text>
<line x1="216.5" y1="594.0" x2="219.6" y2="594.0" stroke="#111" stroke-width="1.1"/>
<text stroke="#1c1c1c" x="213.4" y="596.6" font-size="7.5" text-anchor="end" fill="#1c1c1c" font-weight="normal">2000</text>
<line x1="216.5" y1="572.45" x2="219.6" y2="572.45" stroke="#111" stroke-width="1.1"/>
<text stroke="#1c1c1c" x="213.4" y="575.0500000000001" font-size="7.5" text-anchor="end" fill="#1c1c1c" font-weight="normal">4000</text>
<line x1="216.5" y1="550.9" x2="219.6" y2="550.9" stroke="#111" stroke-width="1.1"/>
<text stroke="#1c1c1c" x="213.4" y="553.5" font-size="7.5" text-anchor="end" fill="#1c1c1c" font-weight="normal">6000</text>
<line x1="216.5" y1="529.35" x2="219.6" y2="529.35" stroke="#111" stroke-width="1.1"/>
<text stroke="#1c1c1c" x="213.4" y="531.95" font-size="7.5" text-anchor="end" fill="#1c1c1c" font-weight="normal">8000</text>
<line x1="218.9" y1="636.8" x2="328.5" y2="636.8" stroke="#111" stroke-width="1.4"/>
<line x1="250.6" y1="636.8" x2="250.6" y2="639.5" stroke="#111" stroke-width="1"/>
<line x1="296.8" y1="636.8" x2="296.8" y2="639.5" stroke="#111" stroke-width="1"/>
<text stroke="#1c1c1c" x="250.6" y="650.7" font-size="9.4" text-anchor="middle" fill="#1c1c1c" font-weight="normal">B1</text>
<text stroke="#1c1c1c" x="296.8" y="650.7" font-size="9.4" text-anchor="middle" fill="#1c1c1c" font-weight="normal">B2</text>
<text stroke="#1c1c1c" transform="translate(191.4,582.2) rotate(-90)" font-size="9.1" text-anchor="middle" fill="#1c1c1c" textLength="82.3" lengthAdjust="spacingAndGlyphs">Venetoclax IC<tspan font-size="6.3" dy="2">50</tspan><tspan dy="-2"> [nM]</tspan></text>
<path d="M250.1,527.9 L250.1,523.2 L297.2,523.2 L297.2,527.9" stroke="#111" stroke-width="1.1" fill="none"/>
<text stroke="#1c1c1c" x="257.2" y="518" font-size="7" fill="#1c1c1c" textLength="33.3" lengthAdjust="spacingAndGlyphs"><tspan font-style="italic">P</tspan> = .0148</text>
<line x1="250.5" y1="568.6" x2="250.5" y2="622.6" stroke="#1e1e1e" stroke-width="1.3"/>
<line x1="243" y1="568.6" x2="258" y2="568.6" stroke="#1e1e1e" stroke-width="1.3"/>
<line x1="243" y1="622.6" x2="258" y2="622.6" stroke="#1e1e1e" stroke-width="1.3"/>
<line x1="235.4" y1="595.5" x2="266" y2="595.5" stroke="#1e1e1e" stroke-width="1.3"/>
<circle cx="250.5" cy="544.9" r="2.25" fill="#a8123c"/>
<circle cx="250.5" cy="554.5" r="2.25" fill="#a8123c"/>
<circle cx="250.5" cy="591.2" r="2.25" fill="#a8123c"/>
<circle cx="247.2" cy="604.5" r="2.25" fill="#a8123c"/>
<circle cx="254" cy="607" r="2.25" fill="#a8123c"/>
<circle cx="241" cy="613.7" r="2.25" fill="#a8123c"/>
<circle cx="247.2" cy="615.8" r="2.25" fill="#a8123c"/>
<circle cx="254" cy="614.8" r="2.25" fill="#a8123c"/>
<circle cx="260.4" cy="612.7" r="2.25" fill="#a8123c"/>
<line x1="296.6" y1="605.4" x2="296.6" y2="620.8" stroke="#1e1e1e" stroke-width="1.2"/>
<line x1="289.3" y1="605.4" x2="304" y2="605.4" stroke="#1e1e1e" stroke-width="1.2"/>
<line x1="289.3" y1="620.8" x2="304" y2="620.8" stroke="#1e1e1e" stroke-width="1.2"/>
<rect x="294.6" y="583" width="4" height="4" fill="#2d4680" stroke="none" stroke-width="0"/>
<path d="M281.5,612 Q283,611 286,611.5 L307,611.5 Q310,611 312.2,612 L312.2,615.5 Q309,617.8 296.6,617.6 Q284,617.8 281.5,615.5 Z" stroke="none" stroke-width="1" fill="#2a4a86"/>
<text stroke="#000" x="343.5" y="513.3" font-size="11" text-anchor="start" fill="#000" font-weight="bold">E</text>
<line x1="393.8" y1="527.5" x2="393.8" y2="637.4" stroke="#111" stroke-width="1.5"/>
<line x1="390.7" y1="637.1" x2="393.8" y2="637.1" stroke="#111" stroke-width="1.1"/>
<text stroke="#1c1c1c" x="387.6" y="639.7" font-size="7.5" text-anchor="end" fill="#1c1c1c" font-weight="normal">-2000</text>
<line x1="390.7" y1="615.5500000000001" x2="393.8" y2="615.5500000000001" stroke="#111" stroke-width="1.1"/>
<text stroke="#1c1c1c" x="387.6" y="618.1500000000001" font-size="7.5" text-anchor="end" fill="#1c1c1c" font-weight="normal">0</text>
<line x1="390.7" y1="594.0" x2="393.8" y2="594.0" stroke="#111" stroke-width="1.1"/>
<text stroke="#1c1c1c" x="387.6" y="596.6" font-size="7.5" text-anchor="end" fill="#1c1c1c" font-weight="normal">2000</text>
<line x1="390.7" y1="572.45" x2="393.8" y2="572.45" stroke="#111" stroke-width="1.1"/>
<text stroke="#1c1c1c" x="387.6" y="575.0500000000001" font-size="7.5" text-anchor="end" fill="#1c1c1c" font-weight="normal">4000</text>
<line x1="390.7" y1="550.9" x2="393.8" y2="550.9" stroke="#111" stroke-width="1.1"/>
<text stroke="#1c1c1c" x="387.6" y="553.5" font-size="7.5" text-anchor="end" fill="#1c1c1c" font-weight="normal">6000</text>
<line x1="390.7" y1="529.35" x2="393.8" y2="529.35" stroke="#111" stroke-width="1.1"/>
<text stroke="#1c1c1c" x="387.6" y="531.95" font-size="7.5" text-anchor="end" fill="#1c1c1c" font-weight="normal">8000</text>
<line x1="393.1" y1="636.8" x2="503.6" y2="636.8" stroke="#111" stroke-width="1.4"/>
<line x1="425.8" y1="636.8" x2="425.8" y2="639.5" stroke="#111" stroke-width="1"/>
<line x1="472" y1="636.8" x2="472" y2="639.5" stroke="#111" stroke-width="1"/>
<text stroke="#1c1c1c" x="425.8" y="650.7" font-size="9.4" text-anchor="middle" fill="#1c1c1c" font-weight="normal">MF</text>
<text stroke="#1c1c1c" x="472" y="650.7" font-size="9.4" text-anchor="middle" fill="#1c1c1c" font-weight="normal">SS</text>
<text stroke="#1c1c1c" transform="translate(366,582.2) rotate(-90)" font-size="9.1" text-anchor="middle" fill="#1c1c1c" textLength="83.5" lengthAdjust="spacingAndGlyphs">Venetoclax IC<tspan font-size="6.3" dy="2">50</tspan><tspan dy="-2"> [nM]</tspan></text>
<path d="M425.1,527.9 L425.1,523.2 L472.2,523.2 L472.2,527.9" stroke="#111" stroke-width="1.1" fill="none"/>
<text stroke="#1c1c1c" x="432.5" y="518" font-size="7" fill="#1c1c1c" textLength="33.6" lengthAdjust="spacingAndGlyphs"><tspan font-style="italic">P</tspan> = .0325</text>
<line x1="425.8" y1="572.9" x2="425.8" y2="622.3" stroke="#1e1e1e" stroke-width="1.3"/>
<line x1="418" y1="572.9" x2="433.3" y2="572.9" stroke="#1e1e1e" stroke-width="1.3"/>
<line x1="418" y1="622.3" x2="433.3" y2="622.3" stroke="#1e1e1e" stroke-width="1.3"/>
<line x1="410.4" y1="597.5" x2="441.5" y2="597.5" stroke="#1e1e1e" stroke-width="1.3"/>
<circle cx="425.8" cy="544.6" r="2.25" fill="#a8123c"/>
<circle cx="425.8" cy="554.4" r="2.25" fill="#a8123c"/>
<circle cx="425.8" cy="584.5" r="2.25" fill="#a8123c"/>
<circle cx="425.8" cy="591.3" r="2.25" fill="#a8123c"/>
<circle cx="422.4" cy="604.3" r="2.25" fill="#a8123c"/>
<circle cx="429.3" cy="607.1" r="2.25" fill="#a8123c"/>
<circle cx="412.4" cy="613.1" r="2.25" fill="#a8123c"/>
<circle cx="417.7" cy="614.6" r="2.25" fill="#a8123c"/>
<circle cx="423" cy="615.9" r="2.25" fill="#a8123c"/>
<circle cx="428.3" cy="615.3" r="2.25" fill="#a8123c"/>
<circle cx="433.7" cy="614.5" r="2.25" fill="#a8123c"/>
<circle cx="439" cy="612.8" r="2.25" fill="#a8123c"/>
<path d="M456.5,612 Q458,611 461,611.8 L482,611.8 Q485,611 487.6,612 L487.6,615.5 Q484,617.8 472,617.6 Q459,617.8 456.5,615.5 Z" stroke="none" stroke-width="1" fill="#2a4a86"/>
<rect x="0.5" y="0.5" width="519" height="671" fill="none" stroke="#000" stroke-width="1.2"/>
<line x1="0" y1="671.2" x2="520" y2="671.2" stroke="#000" stroke-width="1.6"/>
<line x1="519.35" y1="0" x2="519.35" y2="672" stroke="#000" stroke-width="1.3"/>
</svg>
</body></html>
